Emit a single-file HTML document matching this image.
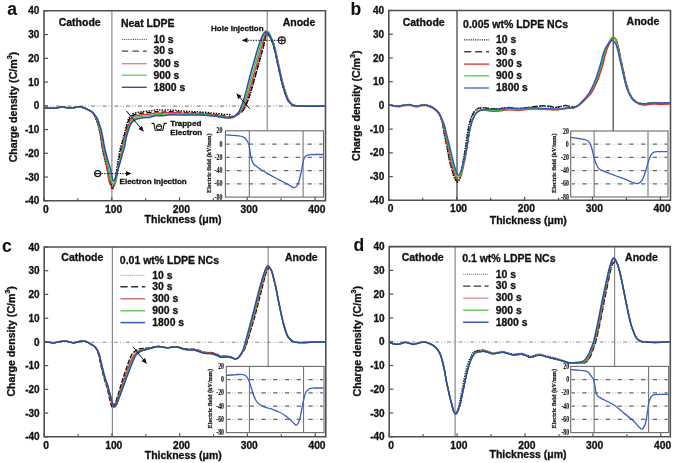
<!DOCTYPE html><html><head><meta charset="utf-8"><style>html,body{margin:0;padding:0;background:#fff;}svg{display:block;will-change:transform;}</style></head><body>
<svg width="675" height="463" viewBox="0 0 675 463">
<defs><marker id="ah" markerWidth="6" markerHeight="6" refX="5" refY="3" orient="auto" markerUnits="userSpaceOnUse"><path d="M0,0.5 L5.5,3 L0,5.5 Z" fill="#111"/></marker></defs>
<rect width="675" height="463" fill="#fff"/>
<text x="7.20" y="15.10" font-family="Liberation Sans, sans-serif" font-size="17.5" font-weight="bold" text-anchor="start" fill="#111" stroke="#111" stroke-width="0.1">a</text>
<text x="39.40" y="204.40" font-family="Liberation Sans, sans-serif" font-size="10" font-weight="bold" text-anchor="end" fill="#111" stroke="#111" stroke-width="0.3">-40</text>
<text x="39.40" y="180.65" font-family="Liberation Sans, sans-serif" font-size="10" font-weight="bold" text-anchor="end" fill="#111" stroke="#111" stroke-width="0.3">-30</text>
<text x="39.40" y="156.90" font-family="Liberation Sans, sans-serif" font-size="10" font-weight="bold" text-anchor="end" fill="#111" stroke="#111" stroke-width="0.3">-20</text>
<text x="39.40" y="133.15" font-family="Liberation Sans, sans-serif" font-size="10" font-weight="bold" text-anchor="end" fill="#111" stroke="#111" stroke-width="0.3">-10</text>
<text x="39.40" y="109.40" font-family="Liberation Sans, sans-serif" font-size="10" font-weight="bold" text-anchor="end" fill="#111" stroke="#111" stroke-width="0.3">0</text>
<text x="39.40" y="85.65" font-family="Liberation Sans, sans-serif" font-size="10" font-weight="bold" text-anchor="end" fill="#111" stroke="#111" stroke-width="0.3">10</text>
<text x="39.40" y="61.90" font-family="Liberation Sans, sans-serif" font-size="10" font-weight="bold" text-anchor="end" fill="#111" stroke="#111" stroke-width="0.3">20</text>
<text x="39.40" y="38.15" font-family="Liberation Sans, sans-serif" font-size="10" font-weight="bold" text-anchor="end" fill="#111" stroke="#111" stroke-width="0.3">30</text>
<text x="39.40" y="14.40" font-family="Liberation Sans, sans-serif" font-size="10" font-weight="bold" text-anchor="end" fill="#111" stroke="#111" stroke-width="0.3">40</text>
<text x="45.80" y="212.60" font-family="Liberation Sans, sans-serif" font-size="10.3" font-weight="bold" text-anchor="middle" fill="#111" stroke="#111" stroke-width="0.3">0</text>
<text x="113.55" y="212.60" font-family="Liberation Sans, sans-serif" font-size="10.3" font-weight="bold" text-anchor="middle" fill="#111" stroke="#111" stroke-width="0.3">100</text>
<text x="181.30" y="212.60" font-family="Liberation Sans, sans-serif" font-size="10.3" font-weight="bold" text-anchor="middle" fill="#111" stroke="#111" stroke-width="0.3">200</text>
<text x="249.05" y="212.60" font-family="Liberation Sans, sans-serif" font-size="10.3" font-weight="bold" text-anchor="middle" fill="#111" stroke="#111" stroke-width="0.3">300</text>
<text x="316.80" y="212.60" font-family="Liberation Sans, sans-serif" font-size="10.3" font-weight="bold" text-anchor="middle" fill="#111" stroke="#111" stroke-width="0.3">400</text>
<text x="183.10" y="223.40" font-family="Liberation Sans, sans-serif" font-size="10.5" font-weight="bold" text-anchor="middle" fill="#111" stroke="#111" stroke-width="0.3">Thickness (&#956;m)</text>
<text transform="translate(17.00,107.15) rotate(-90)" font-family="Liberation Sans, sans-serif" font-size="10.6" font-weight="bold" text-anchor="middle" fill="#111" stroke="#111" stroke-width="0.3">Charge density (C/m<tspan font-size="7" dy="-4.8">3</tspan><tspan dy="4.8">)</tspan></text>
<line x1="111.90" y1="10.80" x2="111.90" y2="200.80" stroke="#8a8a8a" stroke-width="1.2"/>
<line x1="267.20" y1="10.80" x2="267.20" y2="130.60" stroke="#8a8a8a" stroke-width="1.2"/>
<line x1="45.00" y1="106.10" x2="324.50" y2="106.10" stroke="#8a8a8a" stroke-width="1.1" stroke-dasharray="4 2 0.8 1.95 0.8 2.2" stroke-dashoffset="1.10"/>
<path d="M44.50,107.80 C45.42,107.88 48.15,108.23 50.00,108.30 C51.85,108.37 53.63,108.43 55.60,108.20 C57.57,107.97 60.07,107.00 61.80,106.90 C63.53,106.80 64.52,107.38 66.00,107.60 C67.48,107.82 69.20,108.23 70.70,108.20 C72.20,108.17 73.38,107.65 75.00,107.40 C76.62,107.15 78.60,106.48 80.40,106.70 C82.20,106.92 84.37,108.12 85.80,108.70 C87.23,109.28 88.02,109.70 89.00,110.20 C89.98,110.70 90.91,110.98 91.70,111.70 C92.49,112.42 93.03,113.30 93.75,114.50 C94.47,115.70 95.15,116.57 96.00,118.89 C96.86,121.22 98.07,125.26 98.87,128.46 C99.67,131.67 100.26,134.88 100.81,138.12 C101.37,141.36 101.76,145.23 102.20,147.90 C102.64,150.57 102.85,151.40 103.46,154.15 C104.07,156.91 105.32,162.21 105.88,164.43 C106.43,166.65 106.35,165.99 106.80,167.50 C107.25,169.01 107.97,170.75 108.60,173.50 C109.23,176.25 110.03,181.47 110.60,184.00 C111.17,186.53 111.58,187.98 112.00,188.70 C112.42,189.42 112.72,189.00 113.10,188.30 C113.48,187.60 113.90,186.13 114.30,184.50 C114.70,182.87 115.05,181.42 115.50,178.50 C115.95,175.58 116.53,170.25 117.00,167.00 C117.47,163.75 117.87,161.67 118.30,159.00 C118.73,156.33 118.92,154.00 119.60,151.00 C120.28,148.00 121.55,144.07 122.40,141.00 C123.25,137.93 123.85,135.83 124.70,132.60 C125.55,129.37 126.57,124.30 127.50,121.60 C128.43,118.90 129.22,117.78 130.30,116.40 C131.38,115.02 132.38,114.03 134.00,113.30 C135.62,112.57 137.33,112.42 140.00,112.00 C142.67,111.58 147.23,111.19 150.00,110.80 C152.77,110.41 154.85,109.76 156.60,109.64 C158.35,109.52 158.55,110.06 160.50,110.10 C162.45,110.14 165.88,109.86 168.30,109.90 C170.72,109.93 172.22,110.08 175.00,110.30 C177.78,110.52 181.67,110.97 185.00,111.20 C188.33,111.43 191.67,111.52 195.00,111.70 C198.33,111.88 202.17,112.08 205.00,112.30 C207.83,112.52 209.78,112.77 212.00,113.00 C214.22,113.23 216.30,113.46 218.30,113.69 C220.30,113.91 222.22,114.21 224.00,114.35 C225.78,114.49 227.50,114.20 229.00,114.54 C230.50,114.89 231.92,116.27 233.00,116.42 C234.08,116.58 234.43,116.02 235.50,115.50 C236.57,114.98 238.12,114.17 239.40,113.30 C240.68,112.43 242.01,111.85 243.20,110.30 C244.39,108.75 245.30,106.90 246.53,104.00 C247.76,101.10 249.17,97.20 250.55,92.90 C251.93,88.60 253.34,83.40 254.81,78.20 C256.28,73.00 257.92,66.90 259.35,61.70 C260.78,56.50 262.36,51.12 263.38,47.00 C264.40,42.88 264.96,39.15 265.48,37.00 C266.00,34.85 266.22,34.70 266.52,34.12 C266.82,33.53 266.95,33.37 267.28,33.48 C267.61,33.58 267.88,33.87 268.50,34.77 C269.12,35.66 270.08,36.80 271.00,38.84 C271.92,40.88 272.82,42.57 274.00,47.00 C275.18,51.43 276.72,59.28 278.10,65.40 C279.48,71.52 280.83,78.27 282.30,83.70 C283.77,89.13 285.62,94.82 286.90,98.00 C288.18,101.18 289.08,101.67 290.00,102.80 C290.92,103.93 291.40,104.30 292.40,104.80 C293.40,105.30 294.73,105.58 296.00,105.80 C297.27,106.02 297.67,106.03 300.00,106.10 C302.33,106.17 305.83,106.22 310.00,106.20 C314.17,106.18 322.50,106.03 325.00,106.00" fill="none" stroke="#000" stroke-width="1.4" stroke-dasharray="1.4 1.3" stroke-linejoin="round" />
<path d="M44.50,107.80 C45.42,107.88 48.15,108.23 50.00,108.30 C51.85,108.37 53.63,108.43 55.60,108.20 C57.57,107.97 60.07,107.00 61.80,106.90 C63.53,106.80 64.52,107.38 66.00,107.60 C67.48,107.82 69.20,108.23 70.70,108.20 C72.20,108.17 73.38,107.65 75.00,107.40 C76.62,107.15 78.60,106.48 80.40,106.70 C82.20,106.92 84.37,108.12 85.80,108.70 C87.23,109.28 88.02,109.70 89.00,110.20 C89.98,110.70 90.89,110.98 91.70,111.70 C92.51,112.42 93.12,113.31 93.88,114.50 C94.63,115.69 95.34,116.54 96.22,118.81 C97.09,121.08 98.31,125.01 99.12,128.13 C99.94,131.24 100.53,134.35 101.09,137.50 C101.66,140.65 102.06,144.43 102.50,147.02 C102.94,149.62 103.14,150.42 103.74,153.09 C104.34,155.77 105.57,160.78 106.12,163.10 C106.66,165.42 106.55,165.43 107.00,167.00 C107.45,168.57 108.17,169.83 108.80,172.50 C109.43,175.17 110.25,180.53 110.80,183.00 C111.35,185.47 111.70,186.72 112.10,187.30 C112.50,187.88 112.80,187.30 113.20,186.50 C113.60,185.70 114.00,184.33 114.50,182.50 C115.00,180.67 115.58,178.25 116.20,175.50 C116.82,172.75 117.45,170.08 118.20,166.00 C118.95,161.92 119.90,155.17 120.70,151.00 C121.50,146.83 122.23,144.07 123.00,141.00 C123.77,137.93 124.53,135.43 125.30,132.60 C126.07,129.77 126.88,126.23 127.60,124.00 C128.32,121.77 128.87,120.50 129.60,119.20 C130.33,117.90 131.02,117.03 132.00,116.20 C132.98,115.37 134.00,114.70 135.50,114.20 C137.00,113.70 138.58,113.47 141.00,113.20 C143.42,112.93 147.40,112.85 150.00,112.60 C152.60,112.35 154.85,111.77 156.60,111.73 C158.35,111.68 158.55,112.30 160.50,112.32 C162.45,112.33 165.88,111.89 168.30,111.81 C170.72,111.74 172.22,111.74 175.00,111.86 C177.78,111.98 181.67,112.38 185.00,112.54 C188.33,112.70 191.67,112.67 195.00,112.81 C198.33,112.95 202.17,113.16 205.00,113.39 C207.83,113.62 209.78,113.94 212.00,114.21 C214.22,114.49 216.30,114.72 218.30,115.03 C220.30,115.33 222.22,115.74 224.00,116.03 C225.78,116.32 227.50,116.58 229.00,116.75 C230.50,116.92 231.92,117.26 233.00,117.05 C234.08,116.84 234.45,116.12 235.50,115.50 C236.55,114.88 238.06,114.17 239.31,113.30 C240.57,112.43 241.85,111.85 243.02,110.30 C244.19,108.75 245.09,106.90 246.31,104.00 C247.52,101.10 248.93,97.20 250.30,92.90 C251.67,88.60 253.05,83.40 254.52,78.20 C255.98,73.00 257.65,66.90 259.10,61.70 C260.55,56.50 262.14,51.12 263.19,47.00 C264.23,42.88 264.83,39.15 265.38,37.00 C265.92,34.85 266.16,34.70 266.48,34.12 C266.80,33.53 266.94,33.37 267.28,33.48 C267.62,33.58 267.88,33.87 268.50,34.77 C269.12,35.66 270.08,36.80 271.00,38.84 C271.92,40.88 272.82,42.57 274.00,47.00 C275.18,51.43 276.72,59.28 278.10,65.40 C279.48,71.52 280.83,78.27 282.30,83.70 C283.77,89.13 285.62,94.82 286.90,98.00 C288.18,101.18 289.08,101.67 290.00,102.80 C290.92,103.93 291.40,104.30 292.40,104.80 C293.40,105.30 294.73,105.58 296.00,105.80 C297.27,106.02 297.67,106.03 300.00,106.10 C302.33,106.17 305.83,106.22 310.00,106.20 C314.17,106.18 322.50,106.03 325.00,106.00" fill="none" stroke="#111" stroke-width="1.5" stroke-dasharray="5 2.5" stroke-linejoin="round" />
<path d="M44.50,107.80 C45.42,107.88 48.15,108.23 50.00,108.30 C51.85,108.37 53.63,108.43 55.60,108.20 C57.57,107.97 60.07,107.00 61.80,106.90 C63.53,106.80 64.52,107.38 66.00,107.60 C67.48,107.82 69.20,108.23 70.70,108.20 C72.20,108.17 73.38,107.65 75.00,107.40 C76.62,107.15 78.60,106.48 80.40,106.70 C82.20,106.92 84.37,108.12 85.80,108.70 C87.23,109.28 88.02,109.70 89.00,110.20 C89.98,110.70 90.89,110.98 91.70,111.70 C92.51,112.42 93.12,113.31 93.88,114.50 C94.63,115.69 95.36,116.54 96.25,118.81 C97.14,121.08 98.40,125.02 99.23,128.13 C100.07,131.24 100.68,134.35 101.26,137.48 C101.83,140.61 102.26,144.36 102.70,146.93 C103.14,149.50 103.33,150.27 103.92,152.92 C104.51,155.57 105.81,160.57 106.26,162.83 C106.71,165.09 106.38,164.97 106.60,166.50 C106.82,168.03 107.25,169.92 107.60,172.00 C107.95,174.08 108.30,177.00 108.70,179.00 C109.10,181.00 109.48,182.73 110.00,184.00 C110.52,185.27 111.20,186.20 111.80,186.60 C112.40,187.00 113.03,186.92 113.60,186.40 C114.17,185.88 114.73,184.73 115.20,183.50 C115.67,182.27 116.02,180.92 116.40,179.00 C116.78,177.08 117.12,174.17 117.50,172.00 C117.88,169.83 118.23,168.33 118.70,166.00 C119.17,163.67 119.82,160.50 120.30,158.00 C120.78,155.50 121.02,153.83 121.60,151.00 C122.18,148.17 123.03,144.07 123.80,141.00 C124.57,137.93 125.42,135.27 126.20,132.60 C126.98,129.93 127.78,127.02 128.50,125.00 C129.22,122.98 129.75,121.75 130.50,120.50 C131.25,119.25 132.00,118.30 133.00,117.50 C134.00,116.70 135.00,116.17 136.50,115.70 C138.00,115.23 139.75,114.97 142.00,114.70 C144.25,114.43 147.57,114.41 150.00,114.10 C152.43,113.79 154.85,112.98 156.60,112.83 C158.35,112.68 158.55,113.25 160.50,113.21 C162.45,113.18 165.88,112.73 168.30,112.63 C170.72,112.53 172.22,112.52 175.00,112.61 C177.78,112.71 181.67,113.06 185.00,113.19 C188.33,113.31 191.67,113.25 195.00,113.36 C198.33,113.48 202.17,113.66 205.00,113.89 C207.83,114.11 209.78,114.44 212.00,114.71 C214.22,114.99 216.30,115.22 218.30,115.53 C220.30,115.83 222.22,116.26 224.00,116.53 C225.78,116.80 227.50,117.07 229.00,117.17 C230.50,117.27 231.92,117.41 233.00,117.13 C234.08,116.86 234.54,116.14 235.50,115.50 C236.46,114.86 237.70,114.17 238.76,113.30 C239.82,112.43 240.82,111.85 241.85,110.30 C242.88,108.75 243.77,106.90 244.92,104.00 C246.07,101.10 247.45,97.20 248.77,92.90 C250.09,88.60 251.38,83.40 252.84,78.20 C254.30,73.00 256.02,66.90 257.50,61.70 C258.98,56.50 260.58,51.12 261.73,47.00 C262.87,42.88 263.72,39.19 264.35,37.00 C264.98,34.81 265.09,34.49 265.50,33.84 C265.90,33.19 266.24,33.01 266.80,33.11 C267.36,33.21 268.05,33.51 268.86,34.45 C269.68,35.39 270.69,36.66 271.68,38.75 C272.66,40.84 273.60,42.56 274.80,47.00 C276.00,51.44 277.52,59.28 278.90,65.40 C280.28,71.52 281.63,78.27 283.10,83.70 C284.57,89.13 286.45,94.82 287.70,98.00 C288.95,101.18 289.76,101.67 290.60,102.80 C291.44,103.93 291.86,104.30 292.76,104.80 C293.66,105.30 294.79,105.58 296.00,105.80 C297.21,106.02 297.67,106.03 300.00,106.10 C302.33,106.17 305.83,106.22 310.00,106.20 C314.17,106.18 322.50,106.03 325.00,106.00" fill="none" stroke="#d9343c" stroke-width="1.4" stroke-linejoin="round" />
<path d="M44.50,107.80 C45.42,107.88 48.15,108.23 50.00,108.30 C51.85,108.37 53.63,108.43 55.60,108.20 C57.57,107.97 60.07,107.00 61.80,106.90 C63.53,106.80 64.52,107.38 66.00,107.60 C67.48,107.82 69.20,108.23 70.70,108.20 C72.20,108.17 73.38,107.65 75.00,107.40 C76.62,107.15 78.60,106.48 80.40,106.70 C82.20,106.92 84.37,108.12 85.80,108.70 C87.23,109.28 88.02,109.70 89.00,110.20 C89.98,110.70 90.84,110.98 91.70,111.70 C92.56,112.42 93.34,113.33 94.19,114.50 C95.03,115.67 95.83,116.50 96.77,118.71 C97.70,120.91 98.95,124.72 99.79,127.71 C100.64,130.71 101.25,133.68 101.84,136.69 C102.42,139.70 102.85,143.30 103.30,145.76 C103.75,148.23 103.92,148.93 104.51,151.46 C105.10,153.99 106.32,158.79 106.84,160.97 C107.35,163.14 107.27,162.99 107.60,164.50 C107.93,166.01 108.40,167.92 108.80,170.00 C109.20,172.08 109.60,175.03 110.00,177.00 C110.40,178.97 110.73,180.63 111.20,181.80 C111.67,182.97 112.27,183.72 112.80,184.00 C113.33,184.28 113.92,184.08 114.40,183.50 C114.88,182.92 115.30,181.83 115.70,180.50 C116.10,179.17 116.47,177.08 116.80,175.50 C117.13,173.92 117.22,173.33 117.70,171.00 C118.18,168.67 118.95,164.83 119.70,161.50 C120.45,158.17 121.40,154.42 122.20,151.00 C123.00,147.58 123.72,144.07 124.50,141.00 C125.28,137.93 126.07,135.18 126.90,132.60 C127.73,130.02 128.73,127.35 129.50,125.50 C130.27,123.65 130.75,122.58 131.50,121.50 C132.25,120.42 133.00,119.72 134.00,119.00 C135.00,118.28 136.00,117.68 137.50,117.20 C139.00,116.72 140.92,116.37 143.00,116.10 C145.08,115.83 147.73,115.93 150.00,115.60 C152.27,115.27 154.85,114.33 156.60,114.13 C158.35,113.93 158.55,114.48 160.50,114.41 C162.45,114.34 165.88,113.85 168.30,113.72 C170.72,113.59 172.22,113.57 175.00,113.62 C177.78,113.68 181.67,113.99 185.00,114.07 C188.33,114.16 191.67,114.05 195.00,114.12 C198.33,114.20 202.17,114.35 205.00,114.55 C207.83,114.75 209.78,115.07 212.00,115.33 C214.22,115.59 216.30,115.81 218.30,116.10 C220.30,116.38 222.22,116.81 224.00,117.06 C225.78,117.31 227.50,117.56 229.00,117.58 C230.50,117.61 231.92,117.56 233.00,117.22 C234.08,116.87 234.62,116.15 235.50,115.50 C236.38,114.85 237.37,114.17 238.25,113.30 C239.13,112.43 239.88,111.85 240.77,110.30 C241.66,108.75 242.52,106.90 243.61,104.00 C244.70,101.10 246.02,97.20 247.28,92.90 C248.55,88.60 249.75,83.40 251.17,78.20 C252.59,73.00 254.32,66.91 255.80,61.70 C257.28,56.49 258.85,51.18 260.06,46.96 C261.26,42.73 262.24,38.85 263.03,36.35 C263.82,33.84 264.28,32.82 264.81,31.91 C265.34,31.00 265.56,30.81 266.22,30.89 C266.89,30.98 267.93,31.25 268.81,32.42 C269.69,33.58 270.55,35.46 271.50,37.89 C272.45,40.33 273.32,42.42 274.50,47.00 C275.68,51.58 277.22,59.28 278.60,65.40 C279.98,71.52 281.33,78.27 282.80,83.70 C284.27,89.13 286.14,94.82 287.40,98.00 C288.66,101.18 289.50,101.67 290.38,102.80 C291.25,103.93 291.69,104.30 292.62,104.80 C293.56,105.30 294.77,105.58 296.00,105.80 C297.23,106.02 297.67,106.03 300.00,106.10 C302.33,106.17 305.83,106.22 310.00,106.20 C314.17,106.18 322.50,106.03 325.00,106.00" fill="none" stroke="#3ec43e" stroke-width="1.4" stroke-linejoin="round" />
<path d="M44.50,107.80 C45.42,107.88 48.15,108.23 50.00,108.30 C51.85,108.37 53.63,108.43 55.60,108.20 C57.57,107.97 60.07,107.00 61.80,106.90 C63.53,106.80 64.52,107.38 66.00,107.60 C67.48,107.82 69.20,108.23 70.70,108.20 C72.20,108.17 73.38,107.65 75.00,107.40 C76.62,107.15 78.60,106.48 80.40,106.70 C82.20,106.92 84.37,108.12 85.80,108.70 C87.23,109.28 88.02,109.70 89.00,110.20 C89.98,110.70 90.78,110.98 91.70,111.70 C92.62,112.42 93.57,113.35 94.50,114.50 C95.43,115.65 96.32,116.47 97.30,118.60 C98.28,120.73 99.53,124.42 100.40,127.30 C101.27,130.18 101.90,133.02 102.50,135.90 C103.10,138.78 103.55,142.25 104.00,144.60 C104.45,146.95 104.62,147.58 105.20,150.00 C105.78,152.42 106.67,156.08 107.50,159.10 C108.33,162.12 109.43,165.08 110.20,168.10 C110.97,171.12 111.57,175.00 112.10,177.20 C112.63,179.40 112.80,181.30 113.40,181.30 C114.00,181.30 114.87,179.40 115.70,177.20 C116.53,175.00 117.50,171.12 118.40,168.10 C119.30,165.08 120.30,161.95 121.10,159.10 C121.90,156.25 122.65,152.93 123.20,151.00 C123.75,149.07 123.88,149.77 124.40,147.50 C124.92,145.23 125.70,140.07 126.30,137.40 C126.90,134.73 127.38,133.48 128.00,131.50 C128.62,129.52 129.25,127.12 130.00,125.50 C130.75,123.88 131.67,122.72 132.50,121.80 C133.33,120.88 134.13,120.52 135.00,120.00 C135.87,119.48 136.35,119.08 137.70,118.70 C139.05,118.32 141.05,117.95 143.10,117.70 C145.15,117.45 147.75,117.55 150.00,117.20 C152.25,116.85 154.85,115.83 156.60,115.60 C158.35,115.37 158.55,115.90 160.50,115.80 C162.45,115.70 165.88,115.17 168.30,115.00 C170.72,114.83 172.22,114.78 175.00,114.80 C177.78,114.82 181.67,115.07 185.00,115.10 C188.33,115.13 191.67,114.97 195.00,115.00 C198.33,115.03 202.17,115.13 205.00,115.30 C207.83,115.47 209.78,115.77 212.00,116.00 C214.22,116.23 216.30,116.43 218.30,116.70 C220.30,116.97 222.22,117.38 224.00,117.60 C225.78,117.82 227.50,118.05 229.00,118.00 C230.50,117.95 231.92,117.72 233.00,117.30 C234.08,116.88 234.72,116.17 235.50,115.50 C236.28,114.83 237.02,114.17 237.70,113.30 C238.38,112.43 238.85,111.85 239.60,110.30 C240.35,108.75 241.18,106.90 242.20,104.00 C243.22,101.10 244.50,97.20 245.70,92.90 C246.90,88.60 248.02,83.40 249.40,78.20 C250.78,73.00 252.52,66.90 254.00,61.70 C255.48,56.50 257.00,51.12 258.30,47.00 C259.60,42.88 260.80,39.33 261.80,37.00 C262.80,34.67 263.57,33.83 264.30,33.00 C265.03,32.17 265.50,31.92 266.20,32.00 C266.90,32.08 267.70,32.42 268.50,33.50 C269.30,34.58 270.08,36.25 271.00,38.50 C271.92,40.75 272.82,42.52 274.00,47.00 C275.18,51.48 276.72,59.28 278.10,65.40 C279.48,71.52 280.83,78.27 282.30,83.70 C283.77,89.13 285.62,94.82 286.90,98.00 C288.18,101.18 289.08,101.67 290.00,102.80 C290.92,103.93 291.40,104.30 292.40,104.80 C293.40,105.30 294.73,105.58 296.00,105.80 C297.27,106.02 297.67,106.03 300.00,106.10 C302.33,106.17 305.83,106.22 310.00,106.20 C314.17,106.18 322.50,106.03 325.00,106.00" fill="none" stroke="#2a4aa8" stroke-width="1.5" stroke-linejoin="round" />
<rect x="225.40" y="130.80" width="98.10" height="66.30" fill="#fff" stroke="#6a6a6a" stroke-width="1.1"/>
<line x1="226.40" y1="144.06" x2="322.50" y2="144.06" stroke="#666" stroke-width="1.3" stroke-dasharray="4.4 7.35" stroke-dashoffset="1.2"/>
<line x1="226.40" y1="144.06" x2="322.50" y2="144.06" stroke="#aaa" stroke-width="1.1" stroke-dasharray="0 6.4 0.7 1.9 0.7 2.05" stroke-dashoffset="1.2"/>
<line x1="226.40" y1="157.32" x2="322.50" y2="157.32" stroke="#666" stroke-width="1.3" stroke-dasharray="4.4 7.35" stroke-dashoffset="1.2"/>
<line x1="226.40" y1="157.32" x2="322.50" y2="157.32" stroke="#aaa" stroke-width="1.1" stroke-dasharray="0 6.4 0.7 1.9 0.7 2.05" stroke-dashoffset="1.2"/>
<line x1="226.40" y1="170.58" x2="322.50" y2="170.58" stroke="#666" stroke-width="1.3" stroke-dasharray="4.4 7.35" stroke-dashoffset="1.2"/>
<line x1="226.40" y1="170.58" x2="322.50" y2="170.58" stroke="#aaa" stroke-width="1.1" stroke-dasharray="0 6.4 0.7 1.9 0.7 2.05" stroke-dashoffset="1.2"/>
<line x1="226.40" y1="183.84" x2="322.50" y2="183.84" stroke="#666" stroke-width="1.3" stroke-dasharray="4.4 7.35" stroke-dashoffset="1.2"/>
<line x1="226.40" y1="183.84" x2="322.50" y2="183.84" stroke="#aaa" stroke-width="1.1" stroke-dasharray="0 6.4 0.7 1.9 0.7 2.05" stroke-dashoffset="1.2"/>
<text transform="translate(222.40,133.30) scale(0.8,1)" font-family="Liberation Serif, serif" font-size="7.3" font-weight="bold" text-anchor="end" fill="#1a1a1a" stroke="#1a1a1a" stroke-width="0.15">20</text>
<text transform="translate(222.40,146.56) scale(0.8,1)" font-family="Liberation Serif, serif" font-size="7.3" font-weight="bold" text-anchor="end" fill="#1a1a1a" stroke="#1a1a1a" stroke-width="0.15">0</text>
<text transform="translate(222.40,159.82) scale(0.8,1)" font-family="Liberation Serif, serif" font-size="7.3" font-weight="bold" text-anchor="end" fill="#1a1a1a" stroke="#1a1a1a" stroke-width="0.15">-20</text>
<text transform="translate(222.40,173.08) scale(0.8,1)" font-family="Liberation Serif, serif" font-size="7.3" font-weight="bold" text-anchor="end" fill="#1a1a1a" stroke="#1a1a1a" stroke-width="0.15">-40</text>
<text transform="translate(222.40,186.34) scale(0.8,1)" font-family="Liberation Serif, serif" font-size="7.3" font-weight="bold" text-anchor="end" fill="#1a1a1a" stroke="#1a1a1a" stroke-width="0.15">-60</text>
<text transform="translate(222.40,199.60) scale(0.8,1)" font-family="Liberation Serif, serif" font-size="7.3" font-weight="bold" text-anchor="end" fill="#1a1a1a" stroke="#1a1a1a" stroke-width="0.15">-80</text>
<line x1="249.30" y1="130.80" x2="249.30" y2="197.10" stroke="#6a6a6a" stroke-width="1.0"/>
<line x1="303.10" y1="130.80" x2="303.10" y2="197.10" stroke="#6a6a6a" stroke-width="1.0"/>
<text transform="translate(210.60,163.15) rotate(-90)" font-family="Liberation Serif, serif" font-size="6.9" font-weight="bold" text-anchor="middle" fill="#111" stroke="#111" stroke-width="0.2" textLength="59.5" lengthAdjust="spacingAndGlyphs">Electric field (kV/mm)</text>
<path d="M225.80,134.90 C226.83,134.97 229.97,135.15 232.00,135.30 C234.03,135.45 236.25,135.58 238.00,135.80 C239.75,136.02 241.33,136.20 242.50,136.60 C243.67,137.00 244.22,137.47 245.00,138.20 C245.78,138.93 246.57,139.97 247.20,141.00 C247.83,142.03 248.37,142.98 248.80,144.40 C249.23,145.82 249.48,147.65 249.80,149.50 C250.12,151.35 250.37,153.75 250.70,155.50 C251.03,157.25 251.38,158.70 251.80,160.00 C252.22,161.30 252.62,162.37 253.20,163.30 C253.78,164.23 254.50,164.90 255.30,165.60 C256.10,166.30 256.88,166.73 258.00,167.50 C259.12,168.27 260.67,169.35 262.00,170.20 C263.33,171.05 264.67,171.82 266.00,172.60 C267.33,173.38 268.00,173.80 270.00,174.90 C272.00,176.00 275.47,177.85 278.00,179.20 C280.53,180.55 283.20,181.92 285.20,183.00 C287.20,184.08 288.78,185.02 290.00,185.70 C291.22,186.38 291.77,186.78 292.50,187.10 C293.23,187.42 293.78,187.68 294.40,187.60 C295.02,187.52 295.67,187.12 296.20,186.60 C296.73,186.08 297.13,185.43 297.60,184.50 C298.07,183.57 298.55,182.42 299.00,181.00 C299.45,179.58 299.88,177.77 300.30,176.00 C300.72,174.23 301.08,172.48 301.50,170.40 C301.92,168.32 302.35,165.57 302.80,163.50 C303.25,161.43 303.73,159.20 304.20,158.00 C304.67,156.80 305.03,156.77 305.60,156.30 C306.17,155.83 306.77,155.47 307.60,155.20 C308.43,154.93 309.20,154.82 310.60,154.70 C312.00,154.58 313.93,154.53 316.00,154.50 C318.07,154.47 321.83,154.50 323.00,154.50" fill="none" stroke="#3a5fc0" stroke-width="1.3" stroke-linejoin="round" />
<path d="M44.00,10.80 H325.50 V200.80 H44.00 Z" fill="none" stroke="#505050" stroke-width="1.6"/>
<line x1="44.00" y1="200.80" x2="48.00" y2="200.80" stroke="#505050" stroke-width="1.2"/>
<line x1="44.00" y1="177.05" x2="48.00" y2="177.05" stroke="#505050" stroke-width="1.2"/>
<line x1="44.00" y1="153.30" x2="48.00" y2="153.30" stroke="#505050" stroke-width="1.2"/>
<line x1="44.00" y1="129.55" x2="48.00" y2="129.55" stroke="#505050" stroke-width="1.2"/>
<line x1="44.00" y1="105.80" x2="48.00" y2="105.80" stroke="#505050" stroke-width="1.2"/>
<line x1="44.00" y1="82.05" x2="48.00" y2="82.05" stroke="#505050" stroke-width="1.2"/>
<line x1="44.00" y1="58.30" x2="48.00" y2="58.30" stroke="#505050" stroke-width="1.2"/>
<line x1="44.00" y1="34.55" x2="48.00" y2="34.55" stroke="#505050" stroke-width="1.2"/>
<line x1="44.00" y1="10.80" x2="48.00" y2="10.80" stroke="#505050" stroke-width="1.2"/>
<line x1="44.00" y1="200.80" x2="44.00" y2="197.30" stroke="#505050" stroke-width="1.2"/>
<line x1="77.88" y1="200.80" x2="77.88" y2="198.30" stroke="#505050" stroke-width="1.2"/>
<line x1="111.75" y1="200.80" x2="111.75" y2="197.30" stroke="#505050" stroke-width="1.2"/>
<line x1="145.62" y1="200.80" x2="145.62" y2="198.30" stroke="#505050" stroke-width="1.2"/>
<line x1="179.50" y1="200.80" x2="179.50" y2="197.30" stroke="#505050" stroke-width="1.2"/>
<line x1="213.38" y1="200.80" x2="213.38" y2="198.30" stroke="#505050" stroke-width="1.2"/>
<line x1="247.25" y1="200.80" x2="247.25" y2="197.30" stroke="#505050" stroke-width="1.2"/>
<line x1="281.12" y1="200.80" x2="281.12" y2="198.30" stroke="#505050" stroke-width="1.2"/>
<line x1="315.00" y1="200.80" x2="315.00" y2="197.30" stroke="#505050" stroke-width="1.2"/>
<text x="58.70" y="25.70" font-family="Liberation Sans, sans-serif" font-size="10.5" font-weight="bold" text-anchor="start" fill="#111" stroke="#111" stroke-width="0.3">Cathode</text>
<text x="120.90" y="26.90" font-family="Liberation Sans, sans-serif" font-size="10.5" font-weight="bold" text-anchor="start" fill="#111" stroke="#111" stroke-width="0.3">Neat LDPE</text>
<text x="282.70" y="26.10" font-family="Liberation Sans, sans-serif" font-size="10.5" font-weight="bold" text-anchor="start" fill="#111" stroke="#111" stroke-width="0.3">Anode</text>
<text x="211.10" y="31.30" font-family="Liberation Sans, sans-serif" font-size="8" font-weight="bold" text-anchor="start" fill="#111" stroke="#111" stroke-width="0.3">Hole injection</text>
<text x="119.60" y="184.30" font-family="Liberation Sans, sans-serif" font-size="8" font-weight="bold" text-anchor="start" fill="#111" stroke="#111" stroke-width="0.3">Electron injection</text>
<text x="170.20" y="125.50" font-family="Liberation Sans, sans-serif" font-size="8" font-weight="bold" text-anchor="start" fill="#111" stroke="#111" stroke-width="0.3">Trapped</text>
<text x="170.20" y="135.20" font-family="Liberation Sans, sans-serif" font-size="8" font-weight="bold" text-anchor="start" fill="#111" stroke="#111" stroke-width="0.3">Electron</text>
<line x1="121.80" y1="39.50" x2="146.80" y2="39.50" stroke="#555" stroke-width="1.2" stroke-dasharray="1.1 1.1"/>
<text x="153.40" y="42.80" font-family="Liberation Sans, sans-serif" font-size="10.4" font-weight="bold" text-anchor="start" fill="#111" stroke="#111" stroke-width="0.3">10 s</text>
<line x1="121.80" y1="51.10" x2="146.80" y2="51.10" stroke="#444" stroke-width="1.4" stroke-dasharray="6.4 4.2"/>
<text x="153.40" y="54.40" font-family="Liberation Sans, sans-serif" font-size="10.4" font-weight="bold" text-anchor="start" fill="#111" stroke="#111" stroke-width="0.3">30 s</text>
<line x1="121.80" y1="63.70" x2="146.80" y2="63.70" stroke="#dc8a92" stroke-width="1.4"/>
<text x="153.40" y="67.00" font-family="Liberation Sans, sans-serif" font-size="10.4" font-weight="bold" text-anchor="start" fill="#111" stroke="#111" stroke-width="0.3">300 s</text>
<line x1="121.80" y1="75.20" x2="146.80" y2="75.20" stroke="#6ad06a" stroke-width="1.4"/>
<text x="153.40" y="78.50" font-family="Liberation Sans, sans-serif" font-size="10.4" font-weight="bold" text-anchor="start" fill="#111" stroke="#111" stroke-width="0.3">900 s</text>
<line x1="121.80" y1="87.30" x2="146.80" y2="87.30" stroke="#3a4fa0" stroke-width="1.4"/>
<text x="153.40" y="90.60" font-family="Liberation Sans, sans-serif" font-size="10.4" font-weight="bold" text-anchor="start" fill="#111" stroke="#111" stroke-width="0.3">1800 s</text>
<line x1="277.8" y1="40.3" x2="242.5" y2="40.3" stroke="#111" stroke-width="1" stroke-dasharray="1.4 1.2" marker-end="url(#ah)"/>
<circle cx="281.80" cy="40.30" r="3.50" fill="none" stroke="#1a1a1a" stroke-width="1.2"/><line x1="278.30" y1="40.30" x2="285.30" y2="40.30" stroke="#1a1a1a" stroke-width="1.2"/><line x1="281.80" y1="36.80" x2="281.80" y2="43.80" stroke="#1a1a1a" stroke-width="1"/>
<line x1="101.5" y1="173.6" x2="131" y2="173.6" stroke="#111" stroke-width="1" stroke-dasharray="1.4 1.2" marker-end="url(#ah)"/>
<circle cx="97.70" cy="173.60" r="3.00" fill="none" stroke="#1a1a1a" stroke-width="1.2"/><line x1="94.70" y1="173.60" x2="100.70" y2="173.60" stroke="#1a1a1a" stroke-width="1.2"/>
<line x1="126.3" y1="110.9" x2="143.3" y2="131.1" stroke="#111" stroke-width="1" marker-end="url(#ah)"/>
<line x1="249.8" y1="108.8" x2="236.8" y2="93.8" stroke="#111" stroke-width="1" marker-end="url(#ah)"/>
<path d="M151.5,123.4 H153.8 L155.3,130.3 H162.8 L164.3,123.4 H166.7" fill="none" stroke="#111" stroke-width="1.1"/>
<circle cx="159.1" cy="127.1" r="2.7" fill="none" stroke="#111" stroke-width="1"/><line x1="156.6" y1="126.2" x2="161.6" y2="126.2" stroke="#111" stroke-width="1"/>
<text x="350.50" y="15.10" font-family="Liberation Sans, sans-serif" font-size="17.5" font-weight="bold" text-anchor="start" fill="#111" stroke="#111" stroke-width="0.1">b</text>
<text x="384.20" y="203.90" font-family="Liberation Sans, sans-serif" font-size="10" font-weight="bold" text-anchor="end" fill="#111" stroke="#111" stroke-width="0.3">-40</text>
<text x="384.20" y="180.17" font-family="Liberation Sans, sans-serif" font-size="10" font-weight="bold" text-anchor="end" fill="#111" stroke="#111" stroke-width="0.3">-30</text>
<text x="384.20" y="156.45" font-family="Liberation Sans, sans-serif" font-size="10" font-weight="bold" text-anchor="end" fill="#111" stroke="#111" stroke-width="0.3">-20</text>
<text x="384.20" y="132.72" font-family="Liberation Sans, sans-serif" font-size="10" font-weight="bold" text-anchor="end" fill="#111" stroke="#111" stroke-width="0.3">-10</text>
<text x="384.20" y="109.00" font-family="Liberation Sans, sans-serif" font-size="10" font-weight="bold" text-anchor="end" fill="#111" stroke="#111" stroke-width="0.3">0</text>
<text x="384.20" y="85.28" font-family="Liberation Sans, sans-serif" font-size="10" font-weight="bold" text-anchor="end" fill="#111" stroke="#111" stroke-width="0.3">10</text>
<text x="384.20" y="61.55" font-family="Liberation Sans, sans-serif" font-size="10" font-weight="bold" text-anchor="end" fill="#111" stroke="#111" stroke-width="0.3">20</text>
<text x="384.20" y="37.83" font-family="Liberation Sans, sans-serif" font-size="10" font-weight="bold" text-anchor="end" fill="#111" stroke="#111" stroke-width="0.3">30</text>
<text x="384.20" y="14.10" font-family="Liberation Sans, sans-serif" font-size="10" font-weight="bold" text-anchor="end" fill="#111" stroke="#111" stroke-width="0.3">40</text>
<text x="390.60" y="212.10" font-family="Liberation Sans, sans-serif" font-size="10.3" font-weight="bold" text-anchor="middle" fill="#111" stroke="#111" stroke-width="0.3">0</text>
<text x="458.50" y="212.10" font-family="Liberation Sans, sans-serif" font-size="10.3" font-weight="bold" text-anchor="middle" fill="#111" stroke="#111" stroke-width="0.3">100</text>
<text x="526.40" y="212.10" font-family="Liberation Sans, sans-serif" font-size="10.3" font-weight="bold" text-anchor="middle" fill="#111" stroke="#111" stroke-width="0.3">200</text>
<text x="594.30" y="212.10" font-family="Liberation Sans, sans-serif" font-size="10.3" font-weight="bold" text-anchor="middle" fill="#111" stroke="#111" stroke-width="0.3">300</text>
<text x="662.20" y="212.10" font-family="Liberation Sans, sans-serif" font-size="10.3" font-weight="bold" text-anchor="middle" fill="#111" stroke="#111" stroke-width="0.3">400</text>
<text x="528.30" y="223.90" font-family="Liberation Sans, sans-serif" font-size="10.5" font-weight="bold" text-anchor="middle" fill="#111" stroke="#111" stroke-width="0.3">Thickness (&#956;m)</text>
<text transform="translate(360.00,105.80) rotate(-90)" font-family="Liberation Sans, sans-serif" font-size="10.6" font-weight="bold" text-anchor="middle" fill="#111" stroke="#111" stroke-width="0.3">Charge density (C/m<tspan font-size="7" dy="-4.8">3</tspan><tspan dy="4.8">)</tspan></text>
<line x1="457.00" y1="10.50" x2="457.00" y2="200.30" stroke="#333" stroke-width="1.15"/>
<line x1="613.20" y1="10.50" x2="613.20" y2="131.00" stroke="#333" stroke-width="1.15"/>
<path d="M389.30,104.80 C389.92,104.93 391.50,105.35 393.00,105.60 C394.50,105.85 396.63,106.35 398.30,106.30 C399.97,106.25 401.30,105.58 403.00,105.30 C404.70,105.02 406.92,104.58 408.50,104.60 C410.08,104.62 411.13,105.12 412.50,105.40 C413.87,105.68 415.28,106.32 416.70,106.30 C418.12,106.28 419.53,105.53 421.00,105.30 C422.47,105.07 424.17,104.82 425.50,104.90 C426.83,104.98 427.83,105.40 429.00,105.80 C430.17,106.20 431.33,106.60 432.50,107.30 C433.67,108.00 434.92,109.00 436.00,110.00 C437.08,111.00 438.20,112.03 439.00,113.30 C439.80,114.57 440.20,115.64 440.82,117.60 C441.44,119.56 442.07,121.83 442.72,125.06 C443.38,128.30 443.99,133.09 444.73,136.99 C445.47,140.89 446.38,144.54 447.16,148.46 C447.94,152.39 448.62,156.95 449.40,160.54 C450.18,164.13 451.07,167.23 451.85,170.00 C452.63,172.76 453.39,175.31 454.06,177.12 C454.72,178.93 455.32,180.02 455.87,180.86 C456.41,181.70 456.83,182.18 457.30,182.18 C457.77,182.18 458.17,181.81 458.70,180.86 C459.22,179.91 459.94,178.35 460.45,176.46 C460.96,174.57 461.31,172.10 461.77,169.52 C462.22,166.94 462.67,164.02 463.17,160.98 C463.67,157.94 464.27,154.49 464.78,151.26 C465.30,148.04 465.78,144.85 466.26,141.62 C466.74,138.39 467.15,134.82 467.64,131.90 C468.13,128.98 468.65,126.46 469.22,124.10 C469.79,121.74 470.40,119.53 471.06,117.75 C471.72,115.97 472.43,114.61 473.15,113.39 C473.87,112.17 474.58,111.23 475.35,110.42 C476.12,109.62 476.86,109.00 477.80,108.59 C478.74,108.17 479.80,108.04 481.00,107.94 C482.20,107.84 483.50,107.86 485.00,107.97 C486.50,108.09 487.62,108.48 490.00,108.60 C492.38,108.72 496.18,108.89 499.30,108.71 C502.42,108.53 505.58,107.55 508.70,107.52 C511.82,107.49 514.67,108.56 518.00,108.53 C521.33,108.50 525.53,107.67 528.70,107.34 C531.87,107.01 534.12,106.77 537.00,106.56 C539.88,106.36 543.00,105.94 546.00,106.10 C549.00,106.26 552.50,107.47 555.00,107.55 C557.50,107.63 559.17,106.89 561.00,106.60 C562.83,106.31 563.95,105.70 566.00,105.80 C568.05,105.90 571.38,107.19 573.30,107.19 C575.22,107.19 576.17,106.53 577.50,105.80 C578.83,105.07 579.89,104.05 581.26,102.80 C582.64,101.55 584.24,99.88 585.75,98.30 C587.26,96.72 589.00,95.18 590.35,93.30 C591.70,91.42 592.72,89.30 593.87,87.00 C595.02,84.70 596.22,82.17 597.27,79.50 C598.32,76.83 599.24,73.83 600.15,71.00 C601.07,68.17 602.00,65.25 602.76,62.50 C603.51,59.75 603.97,56.94 604.67,54.50 C605.37,52.06 606.26,49.62 606.97,47.85 C607.68,46.07 608.32,45.11 608.95,43.86 C609.58,42.62 610.08,41.41 610.75,40.36 C611.42,39.32 612.30,37.90 613.00,37.60 C613.70,37.30 614.30,37.69 614.98,38.53 C615.65,39.38 616.39,40.75 617.05,42.66 C617.71,44.57 618.29,47.17 618.93,50.00 C619.57,52.83 620.17,56.25 620.91,59.67 C621.65,63.08 622.57,66.88 623.38,70.50 C624.19,74.12 624.96,78.23 625.75,81.40 C626.54,84.57 627.32,87.23 628.13,89.50 C628.93,91.77 629.74,93.38 630.60,95.00 C631.45,96.62 632.31,98.07 633.27,99.20 C634.22,100.33 635.26,101.13 636.33,101.80 C637.40,102.47 638.41,102.87 639.69,103.20 C640.98,103.53 642.56,103.75 644.04,103.80 C645.53,103.85 646.99,103.67 648.59,103.50 C650.19,103.33 651.66,102.87 653.63,102.80 C655.61,102.73 657.67,103.10 660.45,103.10 C663.24,103.10 668.69,102.85 670.34,102.80" fill="none" stroke="#000" stroke-width="1.4" stroke-dasharray="1.4 1.3" stroke-linejoin="round" />
<path d="M389.30,104.80 C389.92,104.93 391.50,105.35 393.00,105.60 C394.50,105.85 396.63,106.35 398.30,106.30 C399.97,106.25 401.30,105.58 403.00,105.30 C404.70,105.02 406.92,104.58 408.50,104.60 C410.08,104.62 411.13,105.12 412.50,105.40 C413.87,105.68 415.28,106.32 416.70,106.30 C418.12,106.28 419.53,105.53 421.00,105.30 C422.47,105.07 424.17,104.82 425.50,104.90 C426.83,104.98 427.83,105.40 429.00,105.80 C430.17,106.20 431.33,106.60 432.50,107.30 C433.67,108.00 434.92,109.00 436.00,110.00 C437.08,111.00 438.19,112.03 439.00,113.30 C439.81,114.57 440.22,115.64 440.87,117.60 C441.51,119.56 442.19,121.84 442.87,125.06 C443.54,128.28 444.18,133.05 444.93,136.92 C445.68,140.79 446.58,144.40 447.36,148.27 C448.14,152.15 448.82,156.65 449.60,160.18 C450.38,163.71 451.27,166.75 452.05,169.46 C452.83,172.18 453.59,174.68 454.25,176.47 C454.92,178.25 455.52,179.34 456.07,180.17 C456.61,181.01 457.03,181.48 457.50,181.48 C457.97,181.48 458.37,181.12 458.90,180.17 C459.42,179.23 460.14,177.67 460.66,175.81 C461.17,173.96 461.55,171.54 462.01,169.02 C462.48,166.50 462.95,163.66 463.46,160.68 C463.97,157.70 464.56,154.32 465.08,151.14 C465.60,147.96 466.08,144.81 466.56,141.61 C467.04,138.40 467.45,134.82 467.94,131.90 C468.43,128.98 468.95,126.46 469.52,124.10 C470.08,121.74 470.70,119.53 471.33,117.75 C471.96,115.97 472.64,114.61 473.32,113.39 C474.01,112.17 474.68,111.23 475.43,110.42 C476.17,109.62 476.87,109.00 477.80,108.59 C478.73,108.17 479.80,108.04 481.00,107.94 C482.20,107.84 483.50,107.86 485.00,107.97 C486.50,108.09 487.62,108.48 490.00,108.60 C492.38,108.72 496.18,108.89 499.30,108.71 C502.42,108.53 505.58,107.55 508.70,107.52 C511.82,107.49 514.67,108.56 518.00,108.53 C521.33,108.50 525.53,107.72 528.70,107.34 C531.87,106.96 534.12,106.54 537.00,106.25 C539.88,105.96 543.00,105.46 546.00,105.60 C549.00,105.74 552.50,107.01 555.00,107.10 C557.50,107.19 559.17,106.46 561.00,106.16 C562.83,105.86 563.95,105.16 566.00,105.30 C568.05,105.44 571.38,106.94 573.30,107.02 C575.22,107.10 576.17,106.50 577.50,105.80 C578.83,105.10 579.90,104.05 581.30,102.80 C582.70,101.55 584.35,99.88 585.90,98.30 C587.45,96.72 589.25,95.18 590.62,93.30 C591.99,91.42 593.00,89.30 594.15,87.00 C595.29,84.70 596.48,82.17 597.51,79.50 C598.55,76.83 599.46,73.83 600.37,71.00 C601.28,68.17 602.21,65.25 602.97,62.50 C603.73,59.75 604.20,56.95 604.91,54.50 C605.63,52.05 606.53,49.58 607.25,47.78 C607.96,45.97 608.61,44.98 609.22,43.69 C609.83,42.40 610.27,41.15 610.90,40.05 C611.53,38.95 612.32,37.42 613.00,37.10 C613.68,36.77 614.32,37.23 615.00,38.10 C615.68,38.97 616.44,40.38 617.10,42.33 C617.75,44.28 618.29,46.92 618.91,49.80 C619.53,52.68 620.11,56.15 620.82,59.60 C621.54,63.05 622.43,66.87 623.21,70.50 C623.99,74.13 624.74,78.23 625.50,81.40 C626.27,84.57 627.02,87.23 627.81,89.50 C628.59,91.77 629.38,93.38 630.21,95.00 C631.04,96.62 631.87,98.07 632.80,99.20 C633.73,100.33 634.74,101.13 635.78,101.80 C636.82,102.47 637.77,102.87 639.04,103.20 C640.31,103.53 641.91,103.75 643.40,103.80 C644.89,103.85 646.38,103.67 648.00,103.50 C649.62,103.33 651.10,102.87 653.10,102.80 C655.10,102.73 657.18,103.10 660.00,103.10 C662.82,103.10 668.33,102.85 670.00,102.80" fill="none" stroke="#222" stroke-width="1.3" stroke-dasharray="5 3" stroke-linejoin="round" />
<path d="M389.30,104.83 C389.92,105.01 391.50,105.60 393.00,105.94 C394.50,106.29 396.63,106.91 398.30,106.90 C399.97,106.89 401.30,106.18 403.00,105.90 C404.70,105.62 406.92,105.18 408.50,105.20 C410.08,105.22 411.13,105.72 412.50,106.00 C413.87,106.28 415.28,106.91 416.70,106.90 C418.12,106.88 419.53,106.13 421.00,105.91 C422.47,105.69 424.17,105.46 425.50,105.56 C426.83,105.65 427.83,106.08 429.00,106.49 C430.17,106.90 431.33,107.31 432.50,108.02 C433.67,108.74 434.92,109.75 436.00,110.76 C437.08,111.77 438.16,112.84 439.00,114.09 C439.84,115.34 440.30,116.38 441.04,118.27 C441.78,120.16 442.66,122.34 443.44,125.41 C444.22,128.48 444.95,133.03 445.73,136.71 C446.52,140.40 447.38,143.79 448.16,147.52 C448.94,151.24 449.64,155.65 450.40,159.08 C451.16,162.51 451.97,165.46 452.70,168.09 C453.43,170.73 454.13,173.16 454.77,174.90 C455.41,176.64 455.99,177.71 456.51,178.53 C457.03,179.34 457.40,179.81 457.90,179.81 C458.40,179.81 458.92,179.45 459.54,178.53 C460.15,177.60 460.99,176.05 461.59,174.26 C462.20,172.48 462.62,170.20 463.15,167.82 C463.69,165.43 464.26,162.80 464.81,159.97 C465.36,157.14 465.94,153.90 466.45,150.83 C466.96,147.77 467.42,144.64 467.89,141.58 C468.35,138.52 468.75,135.18 469.23,132.50 C469.72,129.82 470.24,127.62 470.80,125.50 C471.36,123.38 471.98,121.45 472.60,119.80 C473.22,118.15 473.85,116.77 474.50,115.60 C475.15,114.43 475.80,113.57 476.50,112.80 C477.20,112.03 477.87,111.43 478.70,111.00 C479.53,110.57 480.45,110.33 481.50,110.22 C482.55,110.12 483.58,110.20 485.00,110.35 C486.42,110.50 487.62,110.98 490.00,111.10 C492.38,111.22 496.18,111.29 499.30,111.06 C502.42,110.82 505.58,109.79 508.70,109.71 C511.82,109.63 514.67,110.64 518.00,110.57 C521.33,110.49 525.53,109.50 528.70,109.27 C531.87,109.03 534.12,109.11 537.00,109.15 C539.88,109.19 543.00,109.35 546.00,109.48 C549.00,109.60 552.50,109.94 555.00,109.90 C557.50,109.86 559.17,109.50 561.00,109.26 C562.83,109.02 563.95,108.71 566.00,108.46 C568.05,108.21 571.32,108.21 573.30,107.77 C575.28,107.32 576.44,106.63 577.90,105.80 C579.36,104.97 580.62,104.05 582.05,102.80 C583.49,101.55 585.00,99.88 586.50,98.30 C588.00,96.72 589.72,95.18 591.06,93.30 C592.40,91.42 593.42,89.30 594.57,87.00 C595.72,84.70 596.92,82.17 597.97,79.50 C599.02,76.83 599.94,73.83 600.85,71.00 C601.76,68.17 602.69,65.25 603.43,62.50 C604.17,59.75 604.60,56.95 605.29,54.50 C605.97,52.05 606.83,49.58 607.51,47.78 C608.20,45.97 608.82,44.98 609.40,43.69 C609.98,42.39 610.40,41.13 611.00,40.01 C611.60,38.90 612.35,37.32 613.00,37.00 C613.65,36.68 614.25,37.18 614.90,38.07 C615.55,38.96 616.26,40.38 616.90,42.33 C617.54,44.29 618.11,46.92 618.73,49.80 C619.36,52.68 619.94,56.15 620.67,59.60 C621.39,63.05 622.29,66.87 623.08,70.50 C623.87,74.13 624.63,78.23 625.40,81.40 C626.18,84.57 626.93,87.23 627.72,89.50 C628.51,91.77 629.30,93.38 630.14,95.00 C630.98,96.62 631.82,98.04 632.75,99.20 C633.68,100.36 634.70,101.12 635.75,101.94 C636.79,102.77 637.76,103.65 639.03,104.16 C640.31,104.67 641.91,104.91 643.40,105.00 C644.89,105.09 646.38,104.87 648.00,104.70 C649.62,104.53 651.10,104.07 653.10,104.00 C655.10,103.93 657.18,104.30 660.00,104.30 C662.82,104.30 668.33,104.05 670.00,104.00" fill="none" stroke="#e02a2a" stroke-width="1.4" stroke-linejoin="round" />
<path d="M389.30,104.80 C389.92,104.93 391.50,105.35 393.00,105.60 C394.50,105.85 396.63,106.35 398.30,106.30 C399.97,106.25 401.30,105.58 403.00,105.30 C404.70,105.02 406.92,104.58 408.50,104.60 C410.08,104.62 411.13,105.12 412.50,105.40 C413.87,105.68 415.28,106.32 416.70,106.30 C418.12,106.28 419.53,105.53 421.00,105.30 C422.47,105.07 424.17,104.82 425.50,104.90 C426.83,104.98 427.83,105.40 429.00,105.80 C430.17,106.20 431.33,106.60 432.50,107.30 C433.67,108.00 434.92,109.00 436.00,110.00 C437.08,111.00 438.14,112.03 439.00,113.30 C439.86,114.57 440.36,115.65 441.17,117.60 C441.98,119.55 443.00,121.90 443.87,125.02 C444.74,128.14 445.53,132.68 446.37,136.31 C447.20,139.93 448.07,143.17 448.88,146.76 C449.69,150.34 450.45,154.56 451.20,157.83 C451.94,161.10 452.67,163.88 453.35,166.39 C454.03,168.90 454.70,171.21 455.29,172.88 C455.87,174.55 456.39,175.61 456.86,176.40 C457.33,177.19 457.64,177.64 458.10,177.64 C458.56,177.64 459.03,177.30 459.59,176.40 C460.16,175.50 460.92,173.95 461.49,172.26 C462.07,170.57 462.52,168.46 463.06,166.26 C463.60,164.06 464.17,161.68 464.72,159.04 C465.27,156.41 465.86,153.36 466.38,150.44 C466.90,147.53 467.38,144.53 467.85,141.54 C468.32,138.55 468.73,135.17 469.22,132.50 C469.71,129.83 470.24,127.62 470.80,125.50 C471.36,123.38 471.98,121.45 472.60,119.80 C473.22,118.15 473.85,116.77 474.50,115.60 C475.15,114.43 475.80,113.57 476.50,112.80 C477.20,112.03 477.87,111.45 478.70,111.00 C479.53,110.55 480.45,110.29 481.50,110.12 C482.55,109.95 483.58,109.95 485.00,110.00 C486.42,110.05 487.62,110.35 490.00,110.40 C492.38,110.45 496.18,110.57 499.30,110.32 C502.42,110.08 505.58,109.04 508.70,108.95 C511.82,108.86 514.67,109.83 518.00,109.77 C521.33,109.71 525.53,108.79 528.70,108.60 C531.87,108.40 534.12,108.54 537.00,108.61 C539.88,108.67 543.00,108.87 546.00,109.01 C549.00,109.16 552.50,109.50 555.00,109.49 C557.50,109.47 559.17,109.11 561.00,108.90 C562.83,108.69 563.95,108.42 566.00,108.23 C568.05,108.03 571.38,108.13 573.30,107.72 C575.22,107.32 576.18,106.62 577.50,105.80 C578.82,104.98 579.88,104.05 581.21,102.80 C582.54,101.55 584.05,99.88 585.50,98.30 C586.95,96.72 588.59,95.18 589.90,93.30 C591.21,91.42 592.21,89.30 593.35,87.00 C594.48,84.70 595.67,82.17 596.71,79.50 C597.75,76.83 598.66,73.83 599.57,71.00 C600.47,68.17 601.40,65.25 602.14,62.50 C602.89,59.75 603.34,56.96 604.03,54.50 C604.72,52.04 605.58,49.56 606.29,47.74 C607.00,45.92 607.63,44.91 608.27,43.60 C608.91,42.29 609.44,41.01 610.15,39.88 C610.86,38.74 611.78,37.12 612.50,36.80 C613.22,36.48 613.80,37.02 614.47,37.93 C615.14,38.85 615.88,40.29 616.54,42.27 C617.19,44.25 617.77,46.91 618.41,49.80 C619.05,52.69 619.64,56.15 620.38,59.60 C621.12,63.05 622.03,66.87 622.84,70.50 C623.64,74.13 624.42,78.23 625.20,81.40 C625.99,84.57 626.75,87.23 627.55,89.50 C628.35,91.77 629.15,93.38 630.00,95.00 C630.85,96.62 631.70,98.07 632.65,99.20 C633.60,100.33 634.63,101.13 635.69,101.80 C636.75,102.47 637.73,102.87 639.02,103.20 C640.31,103.53 641.90,103.75 643.40,103.80 C644.90,103.85 646.38,103.67 648.00,103.50 C649.62,103.33 651.10,102.87 653.10,102.80 C655.10,102.73 657.18,103.10 660.00,103.10 C662.82,103.10 668.33,102.85 670.00,102.80" fill="none" stroke="#3ec43e" stroke-width="1.4" stroke-linejoin="round" />
<path d="M389.30,104.80 C389.92,104.93 391.50,105.35 393.00,105.60 C394.50,105.85 396.63,106.35 398.30,106.30 C399.97,106.25 401.30,105.58 403.00,105.30 C404.70,105.02 406.92,104.58 408.50,104.60 C410.08,104.62 411.13,105.12 412.50,105.40 C413.87,105.68 415.28,106.32 416.70,106.30 C418.12,106.28 419.53,105.53 421.00,105.30 C422.47,105.07 424.17,104.82 425.50,104.90 C426.83,104.98 427.83,105.40 429.00,105.80 C430.17,106.20 431.33,106.60 432.50,107.30 C433.67,108.00 434.92,109.00 436.00,110.00 C437.08,111.00 438.12,112.03 439.00,113.30 C439.88,114.57 440.42,115.65 441.30,117.60 C442.18,119.55 443.35,121.93 444.30,125.00 C445.25,128.07 446.12,132.50 447.00,136.00 C447.88,139.50 448.77,142.58 449.60,146.00 C450.43,149.42 451.27,153.42 452.00,156.50 C452.73,159.58 453.37,162.15 454.00,164.50 C454.63,166.85 455.27,169.02 455.80,170.60 C456.33,172.18 456.78,173.23 457.20,174.00 C457.62,174.77 457.90,175.20 458.30,175.20 C458.70,175.20 459.10,174.87 459.60,174.00 C460.10,173.13 460.75,171.58 461.30,170.00 C461.85,168.42 462.35,166.50 462.90,164.50 C463.45,162.50 464.03,160.42 464.60,158.00 C465.17,155.58 465.77,152.75 466.30,150.00 C466.83,147.25 467.32,144.42 467.80,141.50 C468.28,138.58 468.70,135.17 469.20,132.50 C469.70,129.83 470.23,127.62 470.80,125.50 C471.37,123.38 471.98,121.45 472.60,119.80 C473.22,118.15 473.85,116.77 474.50,115.60 C475.15,114.43 475.80,113.57 476.50,112.80 C477.20,112.03 477.87,111.47 478.70,111.00 C479.53,110.53 480.45,110.23 481.50,110.00 C482.55,109.77 483.58,109.67 485.00,109.60 C486.42,109.53 487.62,109.63 490.00,109.60 C492.38,109.57 496.18,109.68 499.30,109.40 C502.42,109.12 505.58,108.03 508.70,107.90 C511.82,107.77 514.67,108.63 518.00,108.60 C521.33,108.57 525.53,107.80 528.70,107.70 C531.87,107.60 534.12,107.85 537.00,108.00 C539.88,108.15 543.00,108.40 546.00,108.60 C549.00,108.80 552.50,109.18 555.00,109.20 C557.50,109.22 559.17,108.88 561.00,108.70 C562.83,108.52 563.95,108.27 566.00,108.10 C568.05,107.93 571.38,108.08 573.30,107.70 C575.22,107.32 576.20,106.62 577.50,105.80 C578.80,104.98 579.85,104.05 581.10,102.80 C582.35,101.55 583.68,99.88 585.00,98.30 C586.32,96.72 587.78,95.18 589.00,93.30 C590.22,91.42 591.20,89.30 592.30,87.00 C593.40,84.70 594.58,82.17 595.60,79.50 C596.62,76.83 597.50,73.83 598.40,71.00 C599.30,68.17 600.23,65.25 601.00,62.50 C601.77,59.75 602.27,56.87 603.00,54.50 C603.73,52.13 604.65,49.88 605.40,48.30 C606.15,46.72 606.82,46.00 607.50,45.00 C608.18,44.00 608.75,43.03 609.50,42.30 C610.25,41.57 611.25,40.75 612.00,40.60 C612.75,40.45 613.32,40.70 614.00,41.40 C614.68,42.10 615.43,43.20 616.10,44.80 C616.77,46.40 617.35,48.47 618.00,51.00 C618.65,53.53 619.25,56.75 620.00,60.00 C620.75,63.25 621.68,66.93 622.50,70.50 C623.32,74.07 624.10,78.23 624.90,81.40 C625.70,84.57 626.48,87.23 627.30,89.50 C628.12,91.77 628.93,93.38 629.80,95.00 C630.67,96.62 631.53,98.07 632.50,99.20 C633.47,100.33 634.52,101.13 635.60,101.80 C636.68,102.47 637.70,102.87 639.00,103.20 C640.30,103.53 641.90,103.75 643.40,103.80 C644.90,103.85 646.38,103.67 648.00,103.50 C649.62,103.33 651.10,102.87 653.10,102.80 C655.10,102.73 657.18,103.10 660.00,103.10 C662.82,103.10 668.33,102.85 670.00,102.80" fill="none" stroke="#3556b8" stroke-width="1.5" stroke-linejoin="round" />
<rect x="570.70" y="131.00" width="97.30" height="66.00" fill="#fff" stroke="#6a6a6a" stroke-width="1.1"/>
<line x1="571.70" y1="144.20" x2="667.00" y2="144.20" stroke="#666" stroke-width="1.3" stroke-dasharray="4.4 7.35" stroke-dashoffset="1.2"/>
<line x1="571.70" y1="144.20" x2="667.00" y2="144.20" stroke="#aaa" stroke-width="1.1" stroke-dasharray="0 6.4 0.7 1.9 0.7 2.05" stroke-dashoffset="1.2"/>
<line x1="571.70" y1="157.40" x2="667.00" y2="157.40" stroke="#666" stroke-width="1.3" stroke-dasharray="4.4 7.35" stroke-dashoffset="1.2"/>
<line x1="571.70" y1="157.40" x2="667.00" y2="157.40" stroke="#aaa" stroke-width="1.1" stroke-dasharray="0 6.4 0.7 1.9 0.7 2.05" stroke-dashoffset="1.2"/>
<line x1="571.70" y1="170.60" x2="667.00" y2="170.60" stroke="#666" stroke-width="1.3" stroke-dasharray="4.4 7.35" stroke-dashoffset="1.2"/>
<line x1="571.70" y1="170.60" x2="667.00" y2="170.60" stroke="#aaa" stroke-width="1.1" stroke-dasharray="0 6.4 0.7 1.9 0.7 2.05" stroke-dashoffset="1.2"/>
<line x1="571.70" y1="183.80" x2="667.00" y2="183.80" stroke="#666" stroke-width="1.3" stroke-dasharray="4.4 7.35" stroke-dashoffset="1.2"/>
<line x1="571.70" y1="183.80" x2="667.00" y2="183.80" stroke="#aaa" stroke-width="1.1" stroke-dasharray="0 6.4 0.7 1.9 0.7 2.05" stroke-dashoffset="1.2"/>
<text transform="translate(568.80,133.50) scale(0.8,1)" font-family="Liberation Serif, serif" font-size="7.3" font-weight="bold" text-anchor="end" fill="#1a1a1a" stroke="#1a1a1a" stroke-width="0.15">20</text>
<text transform="translate(568.80,146.70) scale(0.8,1)" font-family="Liberation Serif, serif" font-size="7.3" font-weight="bold" text-anchor="end" fill="#1a1a1a" stroke="#1a1a1a" stroke-width="0.15">0</text>
<text transform="translate(568.80,159.90) scale(0.8,1)" font-family="Liberation Serif, serif" font-size="7.3" font-weight="bold" text-anchor="end" fill="#1a1a1a" stroke="#1a1a1a" stroke-width="0.15">-20</text>
<text transform="translate(568.80,173.10) scale(0.8,1)" font-family="Liberation Serif, serif" font-size="7.3" font-weight="bold" text-anchor="end" fill="#1a1a1a" stroke="#1a1a1a" stroke-width="0.15">-40</text>
<text transform="translate(568.80,186.30) scale(0.8,1)" font-family="Liberation Serif, serif" font-size="7.3" font-weight="bold" text-anchor="end" fill="#1a1a1a" stroke="#1a1a1a" stroke-width="0.15">-60</text>
<text transform="translate(568.80,199.50) scale(0.8,1)" font-family="Liberation Serif, serif" font-size="7.3" font-weight="bold" text-anchor="end" fill="#1a1a1a" stroke="#1a1a1a" stroke-width="0.15">-80</text>
<line x1="594.10" y1="131.00" x2="594.10" y2="197.00" stroke="#6a6a6a" stroke-width="1.0"/>
<line x1="648.00" y1="131.00" x2="648.00" y2="197.00" stroke="#6a6a6a" stroke-width="1.0"/>
<text transform="translate(555.90,163.20) rotate(-90)" font-family="Liberation Serif, serif" font-size="6.9" font-weight="bold" text-anchor="middle" fill="#111" stroke="#111" stroke-width="0.2" textLength="59.5" lengthAdjust="spacingAndGlyphs">Electric field (kV/mm)</text>
<path d="M570.80,137.40 C571.67,137.53 574.13,137.90 576.00,138.20 C577.87,138.50 580.33,138.90 582.00,139.20 C583.67,139.50 584.92,139.62 586.00,140.00 C587.08,140.38 587.75,140.75 588.50,141.50 C589.25,142.25 589.83,142.92 590.50,144.50 C591.17,146.08 591.92,148.83 592.50,151.00 C593.08,153.17 593.42,155.42 594.00,157.50 C594.58,159.58 595.33,161.83 596.00,163.50 C596.67,165.17 597.33,166.50 598.00,167.50 C598.67,168.50 598.67,168.72 600.00,169.50 C601.33,170.28 603.50,171.20 606.00,172.20 C608.50,173.20 611.83,174.33 615.00,175.50 C618.17,176.67 622.00,178.03 625.00,179.20 C628.00,180.37 631.00,181.75 633.00,182.50 C635.00,183.25 635.83,183.70 637.00,183.70 C638.17,183.70 639.00,183.37 640.00,182.50 C641.00,181.63 642.00,180.58 643.00,178.50 C644.00,176.42 645.08,172.92 646.00,170.00 C646.92,167.08 647.67,163.50 648.50,161.00 C649.33,158.50 650.08,156.47 651.00,155.00 C651.92,153.53 652.83,152.77 654.00,152.20 C655.17,151.63 655.75,151.70 658.00,151.60 C660.25,151.50 665.92,151.60 667.50,151.60" fill="none" stroke="#3a5fc0" stroke-width="1.3" stroke-linejoin="round" />
<path d="M388.80,10.50 H670.50 V200.30 H388.80 Z" fill="none" stroke="#505050" stroke-width="1.6"/>
<line x1="388.80" y1="200.30" x2="392.80" y2="200.30" stroke="#505050" stroke-width="1.2"/>
<line x1="388.80" y1="176.57" x2="392.80" y2="176.57" stroke="#505050" stroke-width="1.2"/>
<line x1="388.80" y1="152.85" x2="392.80" y2="152.85" stroke="#505050" stroke-width="1.2"/>
<line x1="388.80" y1="129.12" x2="392.80" y2="129.12" stroke="#505050" stroke-width="1.2"/>
<line x1="388.80" y1="105.40" x2="392.80" y2="105.40" stroke="#505050" stroke-width="1.2"/>
<line x1="388.80" y1="81.68" x2="392.80" y2="81.68" stroke="#505050" stroke-width="1.2"/>
<line x1="388.80" y1="57.95" x2="392.80" y2="57.95" stroke="#505050" stroke-width="1.2"/>
<line x1="388.80" y1="34.23" x2="392.80" y2="34.23" stroke="#505050" stroke-width="1.2"/>
<line x1="388.80" y1="10.50" x2="392.80" y2="10.50" stroke="#505050" stroke-width="1.2"/>
<line x1="388.80" y1="200.30" x2="388.80" y2="196.80" stroke="#505050" stroke-width="1.2"/>
<line x1="422.75" y1="200.30" x2="422.75" y2="197.80" stroke="#505050" stroke-width="1.2"/>
<line x1="456.70" y1="200.30" x2="456.70" y2="196.80" stroke="#505050" stroke-width="1.2"/>
<line x1="490.65" y1="200.30" x2="490.65" y2="197.80" stroke="#505050" stroke-width="1.2"/>
<line x1="524.60" y1="200.30" x2="524.60" y2="196.80" stroke="#505050" stroke-width="1.2"/>
<line x1="558.55" y1="200.30" x2="558.55" y2="197.80" stroke="#505050" stroke-width="1.2"/>
<line x1="592.50" y1="200.30" x2="592.50" y2="196.80" stroke="#505050" stroke-width="1.2"/>
<line x1="626.45" y1="200.30" x2="626.45" y2="197.80" stroke="#505050" stroke-width="1.2"/>
<line x1="660.40" y1="200.30" x2="660.40" y2="196.80" stroke="#505050" stroke-width="1.2"/>
<text x="402.70" y="25.50" font-family="Liberation Sans, sans-serif" font-size="10.5" font-weight="bold" text-anchor="start" fill="#111" stroke="#111" stroke-width="0.3">Cathode</text>
<text x="463.10" y="27.90" font-family="Liberation Sans, sans-serif" font-size="10.5" font-weight="bold" text-anchor="start" fill="#111" stroke="#111" stroke-width="0.3">0.005 wt% LDPE NCs</text>
<text x="626.60" y="25.30" font-family="Liberation Sans, sans-serif" font-size="10.5" font-weight="bold" text-anchor="start" fill="#111" stroke="#111" stroke-width="0.3">Anode</text>
<line x1="464.20" y1="39.90" x2="489.10" y2="39.90" stroke="#222" stroke-width="1.1" stroke-dasharray="1.1 1.1"/>
<text x="496.10" y="43.20" font-family="Liberation Sans, sans-serif" font-size="10.4" font-weight="bold" text-anchor="start" fill="#111" stroke="#111" stroke-width="0.3">10 s</text>
<line x1="464.20" y1="51.80" x2="489.10" y2="51.80" stroke="#444" stroke-width="1.4" stroke-dasharray="7 4"/>
<text x="496.10" y="55.10" font-family="Liberation Sans, sans-serif" font-size="10.4" font-weight="bold" text-anchor="start" fill="#111" stroke="#111" stroke-width="0.3">30 s</text>
<line x1="464.20" y1="64.10" x2="489.10" y2="64.10" stroke="#e03a3a" stroke-width="1.4"/>
<text x="496.10" y="67.40" font-family="Liberation Sans, sans-serif" font-size="10.4" font-weight="bold" text-anchor="start" fill="#111" stroke="#111" stroke-width="0.3">300 s</text>
<line x1="464.20" y1="75.80" x2="489.10" y2="75.80" stroke="#5ccc5c" stroke-width="1.4"/>
<text x="496.10" y="79.10" font-family="Liberation Sans, sans-serif" font-size="10.4" font-weight="bold" text-anchor="start" fill="#111" stroke="#111" stroke-width="0.3">900 s</text>
<line x1="464.20" y1="88.00" x2="489.10" y2="88.00" stroke="#4a6cc8" stroke-width="1.4"/>
<text x="496.10" y="91.30" font-family="Liberation Sans, sans-serif" font-size="10.4" font-weight="bold" text-anchor="start" fill="#111" stroke="#111" stroke-width="0.3">1800 s</text>
<text x="2.00" y="252.10" font-family="Liberation Sans, sans-serif" font-size="17.5" font-weight="bold" text-anchor="start" fill="#111" stroke="#111" stroke-width="0.1">c</text>
<text x="39.60" y="440.40" font-family="Liberation Sans, sans-serif" font-size="10" font-weight="bold" text-anchor="end" fill="#111" stroke="#111" stroke-width="0.3">-40</text>
<text x="39.60" y="416.68" font-family="Liberation Sans, sans-serif" font-size="10" font-weight="bold" text-anchor="end" fill="#111" stroke="#111" stroke-width="0.3">-30</text>
<text x="39.60" y="392.95" font-family="Liberation Sans, sans-serif" font-size="10" font-weight="bold" text-anchor="end" fill="#111" stroke="#111" stroke-width="0.3">-20</text>
<text x="39.60" y="369.23" font-family="Liberation Sans, sans-serif" font-size="10" font-weight="bold" text-anchor="end" fill="#111" stroke="#111" stroke-width="0.3">-10</text>
<text x="39.60" y="345.50" font-family="Liberation Sans, sans-serif" font-size="10" font-weight="bold" text-anchor="end" fill="#111" stroke="#111" stroke-width="0.3">0</text>
<text x="39.60" y="321.77" font-family="Liberation Sans, sans-serif" font-size="10" font-weight="bold" text-anchor="end" fill="#111" stroke="#111" stroke-width="0.3">10</text>
<text x="39.60" y="298.05" font-family="Liberation Sans, sans-serif" font-size="10" font-weight="bold" text-anchor="end" fill="#111" stroke="#111" stroke-width="0.3">20</text>
<text x="39.60" y="274.32" font-family="Liberation Sans, sans-serif" font-size="10" font-weight="bold" text-anchor="end" fill="#111" stroke="#111" stroke-width="0.3">30</text>
<text x="39.60" y="250.60" font-family="Liberation Sans, sans-serif" font-size="10" font-weight="bold" text-anchor="end" fill="#111" stroke="#111" stroke-width="0.3">40</text>
<text x="46.00" y="448.60" font-family="Liberation Sans, sans-serif" font-size="10.3" font-weight="bold" text-anchor="middle" fill="#111" stroke="#111" stroke-width="0.3">0</text>
<text x="113.75" y="448.60" font-family="Liberation Sans, sans-serif" font-size="10.3" font-weight="bold" text-anchor="middle" fill="#111" stroke="#111" stroke-width="0.3">100</text>
<text x="181.50" y="448.60" font-family="Liberation Sans, sans-serif" font-size="10.3" font-weight="bold" text-anchor="middle" fill="#111" stroke="#111" stroke-width="0.3">200</text>
<text x="249.25" y="448.60" font-family="Liberation Sans, sans-serif" font-size="10.3" font-weight="bold" text-anchor="middle" fill="#111" stroke="#111" stroke-width="0.3">300</text>
<text x="317.00" y="448.60" font-family="Liberation Sans, sans-serif" font-size="10.3" font-weight="bold" text-anchor="middle" fill="#111" stroke="#111" stroke-width="0.3">400</text>
<text x="183.30" y="459.40" font-family="Liberation Sans, sans-serif" font-size="10.5" font-weight="bold" text-anchor="middle" fill="#111" stroke="#111" stroke-width="0.3">Thickness (&#956;m)</text>
<text transform="translate(15.00,341.40) rotate(-90)" font-family="Liberation Sans, sans-serif" font-size="10.6" font-weight="bold" text-anchor="middle" fill="#111" stroke="#111" stroke-width="0.3">Charge density (C/m<tspan font-size="7" dy="-4.8">3</tspan><tspan dy="4.8">)</tspan></text>
<line x1="112.40" y1="247.00" x2="112.40" y2="436.80" stroke="#8a8a8a" stroke-width="1.2"/>
<line x1="268.20" y1="247.00" x2="268.20" y2="366.40" stroke="#8a8a8a" stroke-width="1.2"/>
<line x1="45.20" y1="342.20" x2="324.80" y2="342.20" stroke="#8a8a8a" stroke-width="1.1" stroke-dasharray="4 2 0.8 1.95 0.8 2.2" stroke-dashoffset="1.55"/>
<path d="M44.50,341.90 C45.25,341.97 47.37,342.17 49.00,342.30 C50.63,342.43 52.63,342.78 54.30,342.70 C55.97,342.62 57.30,342.10 59.00,341.80 C60.70,341.50 62.83,340.90 64.50,340.90 C66.17,340.90 67.47,341.50 69.00,341.80 C70.53,342.10 72.20,342.70 73.70,342.70 C75.20,342.70 76.45,342.10 78.00,341.80 C79.55,341.50 81.50,340.87 83.00,340.90 C84.50,340.93 85.67,341.43 87.00,342.00 C88.33,342.57 89.75,343.55 91.00,344.30 C92.25,345.05 93.54,345.63 94.50,346.50 C95.46,347.37 96.09,348.28 96.76,349.50 C97.43,350.72 97.98,352.05 98.52,353.80 C99.06,355.55 99.52,357.97 99.99,360.00 C100.47,362.03 100.93,364.08 101.38,366.00 C101.82,367.92 102.16,369.58 102.66,371.50 C103.15,373.42 103.84,375.83 104.34,377.50 C104.83,379.17 105.18,380.17 105.62,381.50 C106.07,382.83 106.47,383.58 107.00,385.50 C107.54,387.42 108.26,390.54 108.83,393.00 C109.40,395.46 110.00,398.30 110.45,400.25 C110.90,402.20 111.17,403.52 111.53,404.71 C111.89,405.89 112.23,406.88 112.58,407.34 C112.93,407.80 113.27,407.75 113.62,407.47 C113.97,407.20 114.30,406.60 114.68,405.68 C115.06,404.76 115.22,403.93 115.89,401.96 C116.56,399.99 117.82,396.46 118.69,393.85 C119.57,391.24 120.36,388.75 121.16,386.31 C121.96,383.86 122.64,381.64 123.48,379.19 C124.32,376.74 125.31,374.07 126.20,371.61 C127.09,369.16 128.00,366.57 128.80,364.46 C129.60,362.35 130.27,360.63 131.00,358.97 C131.73,357.32 132.39,355.67 133.20,354.52 C134.01,353.38 135.05,352.73 135.88,352.10 C136.72,351.47 137.26,351.15 138.22,350.74 C139.17,350.33 140.38,349.93 141.60,349.62 C142.82,349.32 144.12,349.18 145.52,348.94 C146.92,348.70 148.50,348.52 150.00,348.20 C151.50,347.88 153.03,347.31 154.50,347.03 C155.97,346.76 157.38,346.54 158.80,346.56 C160.22,346.59 161.52,346.99 163.00,347.20 C164.48,347.41 166.20,347.80 167.70,347.80 C169.20,347.80 170.52,347.32 172.00,347.20 C173.48,347.08 175.10,346.92 176.60,347.10 C178.10,347.28 179.53,347.88 181.00,348.30 C182.47,348.72 183.90,349.33 185.40,349.60 C186.90,349.87 188.52,349.82 190.00,349.90 C191.48,349.98 192.80,349.83 194.30,350.10 C195.80,350.37 197.52,351.00 199.00,351.50 C200.48,352.00 201.70,352.77 203.20,353.10 C204.70,353.43 206.52,353.40 208.00,353.50 C209.48,353.60 210.60,353.37 212.10,353.70 C213.60,354.03 215.52,354.92 217.00,355.50 C218.48,356.08 219.50,356.95 221.00,357.20 C222.50,357.45 224.52,357.00 226.00,357.00 C227.48,357.00 228.73,357.00 229.90,357.20 C231.07,357.40 232.12,357.90 233.00,358.20 C233.88,358.50 234.37,359.03 235.20,359.00 C236.03,358.97 237.07,358.73 238.00,358.00 C238.93,357.27 239.80,355.93 240.79,354.60 C241.79,353.27 243.04,351.85 243.97,350.00 C244.91,348.15 245.59,345.92 246.39,343.50 C247.19,341.08 248.00,338.17 248.78,335.50 C249.56,332.83 250.28,330.17 251.06,327.50 C251.84,324.83 252.68,322.25 253.46,319.50 C254.23,316.75 254.94,313.92 255.70,311.00 C256.46,308.08 257.23,305.00 258.00,302.00 C258.77,299.00 259.55,295.92 260.30,293.00 C261.05,290.08 261.80,287.25 262.52,284.50 C263.23,281.75 263.95,278.83 264.58,276.50 C265.21,274.17 265.81,272.05 266.30,270.50 C266.80,268.95 267.15,267.95 267.55,267.20 C267.95,266.45 268.33,265.90 268.72,266.00 C269.10,266.10 269.35,266.85 269.88,267.80 C270.41,268.75 271.25,269.83 271.90,271.70 C272.55,273.57 273.15,276.42 273.80,279.00 C274.45,281.58 275.15,284.20 275.80,287.20 C276.45,290.20 277.05,293.75 277.70,297.00 C278.35,300.25 279.05,303.57 279.70,306.70 C280.35,309.83 280.95,312.88 281.60,315.80 C282.25,318.72 282.95,321.72 283.60,324.20 C284.25,326.68 284.85,328.77 285.50,330.70 C286.15,332.63 286.70,334.35 287.50,335.80 C288.30,337.25 289.33,338.43 290.30,339.40 C291.27,340.37 292.18,341.10 293.30,341.60 C294.42,342.10 295.70,342.23 297.00,342.40 C298.30,342.57 298.93,342.62 301.10,342.60 C303.27,342.58 307.18,342.38 310.00,342.30 C312.82,342.22 315.50,342.15 318.00,342.10 C320.50,342.05 323.83,342.02 325.00,342.00" fill="none" stroke="#b5b5b5" stroke-width="1.2" stroke-dasharray="1.3 1.0" stroke-linejoin="round" />
<path d="M44.50,341.90 C45.25,341.97 47.37,342.17 49.00,342.30 C50.63,342.43 52.63,342.78 54.30,342.70 C55.97,342.62 57.30,342.10 59.00,341.80 C60.70,341.50 62.83,340.90 64.50,340.90 C66.17,340.90 67.47,341.50 69.00,341.80 C70.53,342.10 72.20,342.70 73.70,342.70 C75.20,342.70 76.45,342.10 78.00,341.80 C79.55,341.50 81.50,340.87 83.00,340.90 C84.50,340.93 85.67,341.43 87.00,342.00 C88.33,342.57 89.75,343.55 91.00,344.30 C92.25,345.05 93.55,345.63 94.50,346.50 C95.45,347.37 96.04,348.28 96.68,349.50 C97.32,350.72 97.84,352.04 98.36,353.80 C98.88,355.56 99.32,357.98 99.79,360.04 C100.26,362.10 100.73,364.20 101.17,366.16 C101.62,368.13 101.96,369.84 102.46,371.83 C102.95,373.81 103.64,376.35 104.14,378.09 C104.63,379.84 104.98,380.91 105.42,382.29 C105.87,383.67 106.28,384.42 106.80,386.37 C107.33,388.33 108.01,391.64 108.56,394.02 C109.11,396.40 109.68,398.87 110.11,400.65 C110.54,402.44 110.80,403.64 111.14,404.73 C111.49,405.82 111.83,406.69 112.18,407.18 C112.53,407.67 112.87,407.84 113.22,407.69 C113.57,407.54 113.90,407.04 114.26,406.26 C114.62,405.48 114.77,404.85 115.39,403.00 C116.01,401.14 117.17,397.74 117.99,395.14 C118.80,392.55 119.54,389.92 120.28,387.42 C121.02,384.92 121.65,382.65 122.44,380.13 C123.23,377.61 124.14,374.87 125.00,372.32 C125.86,369.77 126.80,367.09 127.60,364.86 C128.40,362.63 129.05,360.73 129.80,358.93 C130.54,357.14 131.22,355.36 132.07,354.09 C132.92,352.82 133.99,352.05 134.89,351.30 C135.78,350.55 136.36,350.07 137.43,349.62 C138.49,349.17 139.92,348.83 141.29,348.60 C142.65,348.37 144.15,348.32 145.60,348.22 C147.05,348.12 148.52,348.22 150.00,348.00 C151.48,347.78 153.03,347.17 154.50,346.93 C155.97,346.68 157.38,346.51 158.80,346.54 C160.22,346.57 161.52,346.95 163.00,347.12 C164.48,347.30 166.20,347.65 167.70,347.61 C169.20,347.57 170.52,347.05 172.00,346.90 C173.48,346.75 175.10,346.54 176.60,346.69 C178.10,346.83 179.53,347.40 181.00,347.78 C182.47,348.16 183.90,348.74 185.40,348.97 C186.90,349.19 188.52,349.10 190.00,349.15 C191.48,349.20 192.80,349.01 194.30,349.24 C195.80,349.47 197.52,350.05 199.00,350.52 C200.48,351.00 201.70,351.77 203.20,352.10 C204.70,352.43 206.52,352.40 208.00,352.50 C209.48,352.60 210.60,352.37 212.10,352.70 C213.60,353.03 215.52,353.92 217.00,354.50 C218.48,355.08 219.50,355.93 221.00,356.20 C222.50,356.47 224.52,356.02 226.00,356.09 C227.48,356.17 228.73,356.34 229.90,356.65 C231.07,356.95 232.12,357.55 233.00,357.93 C233.88,358.31 234.37,358.92 235.20,358.93 C236.03,358.94 237.06,358.72 238.00,358.00 C238.94,357.28 239.81,355.93 240.84,354.60 C241.87,353.27 243.22,351.85 244.20,350.00 C245.18,348.15 245.89,345.92 246.71,343.50 C247.54,341.08 248.36,338.17 249.16,335.50 C249.96,332.83 250.70,330.17 251.50,327.50 C252.29,324.83 253.16,322.25 253.94,319.50 C254.73,316.75 255.44,313.92 256.20,311.00 C256.96,308.08 257.73,305.00 258.50,302.00 C259.27,299.00 260.05,295.92 260.80,293.00 C261.55,290.08 262.30,287.25 262.99,284.50 C263.69,281.75 264.36,278.67 264.96,276.50 C265.56,274.33 266.13,272.71 266.60,271.50 C267.07,270.29 267.41,269.80 267.80,269.25 C268.19,268.70 268.57,268.39 268.92,268.19 C269.27,267.99 269.40,267.44 269.90,268.02 C270.40,268.60 271.25,269.87 271.90,271.70 C272.55,273.53 273.15,276.42 273.80,279.00 C274.45,281.58 275.15,284.20 275.80,287.20 C276.45,290.20 277.05,293.75 277.70,297.00 C278.35,300.25 279.05,303.57 279.70,306.70 C280.35,309.83 280.95,312.88 281.60,315.80 C282.25,318.72 282.95,321.72 283.60,324.20 C284.25,326.68 284.85,328.77 285.50,330.70 C286.15,332.63 286.70,334.35 287.50,335.80 C288.30,337.25 289.33,338.43 290.30,339.40 C291.27,340.37 292.18,341.10 293.30,341.60 C294.42,342.10 295.70,342.23 297.00,342.40 C298.30,342.57 298.93,342.62 301.10,342.60 C303.27,342.58 307.18,342.38 310.00,342.30 C312.82,342.22 315.50,342.15 318.00,342.10 C320.50,342.05 323.83,342.02 325.00,342.00" fill="none" stroke="#111" stroke-width="1.4" stroke-dasharray="5 1.5" stroke-linejoin="round" />
<path d="M44.50,341.90 C45.25,341.97 47.37,342.17 49.00,342.30 C50.63,342.43 52.63,342.78 54.30,342.70 C55.97,342.62 57.30,342.10 59.00,341.80 C60.70,341.50 62.83,340.90 64.50,340.90 C66.17,340.90 67.47,341.50 69.00,341.80 C70.53,342.10 72.20,342.70 73.70,342.70 C75.20,342.70 76.45,342.10 78.00,341.80 C79.55,341.50 81.50,340.87 83.00,340.90 C84.50,340.93 85.67,341.43 87.00,342.00 C88.33,342.57 89.75,343.55 91.00,344.30 C92.25,345.05 93.53,345.63 94.50,346.50 C95.47,347.37 96.14,348.28 96.84,349.50 C97.54,350.72 98.12,352.05 98.68,353.80 C99.24,355.55 99.71,357.97 100.19,360.02 C100.67,362.06 101.13,364.14 101.58,366.08 C102.02,368.02 102.37,369.71 102.86,371.66 C103.35,373.62 104.04,376.09 104.54,377.80 C105.03,379.50 105.38,380.54 105.82,381.90 C106.27,383.25 106.65,384.00 107.20,385.94 C107.76,387.87 108.54,391.15 109.17,393.51 C109.79,395.87 110.44,398.31 110.93,400.08 C111.42,401.84 111.73,403.04 112.11,404.12 C112.48,405.19 112.83,406.05 113.18,406.54 C113.53,407.03 113.87,407.20 114.22,407.04 C114.57,406.89 114.90,406.41 115.27,405.63 C115.64,404.86 115.80,404.23 116.44,402.40 C117.08,400.57 118.29,397.20 119.14,394.67 C119.99,392.14 120.75,389.62 121.52,387.21 C122.29,384.80 122.95,382.59 123.76,380.23 C124.57,377.86 125.53,375.35 126.40,373.00 C127.27,370.65 128.20,368.15 129.00,366.10 C129.80,364.05 130.47,362.34 131.20,360.70 C131.92,359.06 132.56,357.51 133.35,356.28 C134.14,355.04 135.11,354.10 135.94,353.30 C136.77,352.50 137.32,352.01 138.32,351.46 C139.33,350.91 140.68,350.43 141.96,350.03 C143.24,349.63 144.66,349.40 146.00,349.06 C147.34,348.72 148.58,348.37 150.00,348.00 C151.42,347.63 153.03,347.09 154.50,346.81 C155.97,346.53 157.38,346.28 158.80,346.32 C160.22,346.36 161.52,346.79 163.00,347.02 C164.48,347.26 166.20,347.72 167.70,347.74 C169.20,347.76 170.52,347.28 172.00,347.14 C173.48,347.00 175.10,346.76 176.60,346.90 C178.10,347.04 179.53,347.60 181.00,347.98 C182.47,348.35 183.90,348.94 185.40,349.17 C186.90,349.39 188.52,349.30 190.00,349.35 C191.48,349.40 192.80,349.21 194.30,349.44 C195.80,349.67 197.52,350.25 199.00,350.73 C200.48,351.20 201.70,351.97 203.20,352.30 C204.70,352.63 206.52,352.60 208.00,352.70 C209.48,352.80 210.60,352.57 212.10,352.90 C213.60,353.23 215.52,354.12 217.00,354.70 C218.48,355.28 219.50,356.14 221.00,356.40 C222.50,356.66 224.52,356.21 226.00,356.27 C227.48,356.33 228.73,356.47 229.90,356.76 C231.07,357.04 232.12,357.62 233.00,357.98 C233.88,358.35 234.37,358.94 235.20,358.94 C236.03,358.94 237.07,358.72 238.00,358.00 C238.93,357.28 239.79,355.93 240.75,354.60 C241.71,353.27 242.86,351.85 243.75,350.00 C244.64,348.15 245.29,345.92 246.06,343.50 C246.84,341.08 247.64,338.17 248.40,335.50 C249.16,332.83 249.87,330.17 250.63,327.50 C251.39,324.83 252.21,322.25 252.97,319.50 C253.73,316.75 254.44,313.92 255.20,311.00 C255.96,308.08 256.73,305.00 257.50,302.00 C258.27,299.00 259.04,295.92 259.80,293.00 C260.56,290.08 261.31,287.25 262.04,284.50 C262.77,281.75 263.54,278.71 264.20,276.50 C264.86,274.29 265.49,272.55 266.00,271.25 C266.51,269.95 266.85,269.32 267.25,268.70 C267.65,268.07 267.98,267.62 268.42,267.50 C268.85,267.38 269.27,267.25 269.85,267.95 C270.43,268.65 271.24,269.86 271.90,271.70 C272.56,273.54 273.15,276.42 273.80,279.00 C274.45,281.58 275.15,284.20 275.80,287.20 C276.45,290.20 277.05,293.75 277.70,297.00 C278.35,300.25 279.05,303.57 279.70,306.70 C280.35,309.83 280.95,312.88 281.60,315.80 C282.25,318.72 282.95,321.72 283.60,324.20 C284.25,326.68 284.85,328.77 285.50,330.70 C286.15,332.63 286.70,334.35 287.50,335.80 C288.30,337.25 289.33,338.43 290.30,339.40 C291.27,340.37 292.18,341.10 293.30,341.60 C294.42,342.10 295.70,342.23 297.00,342.40 C298.30,342.57 298.93,342.62 301.10,342.60 C303.27,342.58 307.18,342.38 310.00,342.30 C312.82,342.22 315.50,342.15 318.00,342.10 C320.50,342.05 323.83,342.02 325.00,342.00" fill="none" stroke="#d9343c" stroke-width="1.4" stroke-linejoin="round" />
<path d="M44.50,341.90 C45.25,341.97 47.37,342.17 49.00,342.30 C50.63,342.43 52.63,342.78 54.30,342.70 C55.97,342.62 57.30,342.10 59.00,341.80 C60.70,341.50 62.83,340.90 64.50,340.90 C66.17,340.90 67.47,341.50 69.00,341.80 C70.53,342.10 72.20,342.70 73.70,342.70 C75.20,342.70 76.45,342.10 78.00,341.80 C79.55,341.50 81.50,340.87 83.00,340.90 C84.50,340.93 85.67,341.43 87.00,342.00 C88.33,342.57 89.75,343.55 91.00,344.30 C92.25,345.05 93.50,345.63 94.50,346.50 C95.50,347.37 96.25,348.28 97.00,349.50 C97.75,350.72 98.40,352.05 99.00,353.80 C99.60,355.55 100.10,357.97 100.60,360.00 C101.10,362.03 101.55,364.08 102.00,366.00 C102.45,367.92 102.80,369.58 103.30,371.50 C103.80,373.42 104.50,375.83 105.00,377.50 C105.50,379.17 105.85,380.17 106.30,381.50 C106.75,382.83 107.13,383.58 107.70,385.50 C108.27,387.42 109.07,390.67 109.70,393.00 C110.33,395.33 111.00,397.75 111.50,399.50 C112.00,401.25 112.30,402.43 112.70,403.50 C113.10,404.57 113.50,405.42 113.90,405.90 C114.30,406.38 114.70,406.55 115.10,406.40 C115.49,406.25 115.88,405.77 116.27,405.00 C116.66,404.23 116.80,403.60 117.44,401.80 C118.08,400.00 119.28,396.67 120.14,394.20 C121.00,391.73 121.78,389.33 122.58,387.00 C123.38,384.67 124.09,382.53 124.94,380.20 C125.79,377.87 126.81,375.35 127.70,373.00 C128.59,370.65 129.50,368.15 130.30,366.10 C131.10,364.05 131.79,362.33 132.50,360.70 C133.21,359.07 133.80,357.48 134.54,356.30 C135.28,355.12 136.18,354.32 136.92,353.60 C137.66,352.88 138.09,352.50 138.98,352.00 C139.87,351.50 141.08,351.00 142.25,350.60 C143.42,350.20 144.71,349.95 146.00,349.60 C147.29,349.25 148.58,348.90 150.00,348.50 C151.42,348.10 153.03,347.52 154.50,347.20 C155.97,346.88 157.38,346.60 158.80,346.60 C160.22,346.60 161.52,347.00 163.00,347.20 C164.48,347.40 166.20,347.80 167.70,347.80 C169.20,347.80 170.52,347.32 172.00,347.20 C173.48,347.08 175.10,346.92 176.60,347.10 C178.10,347.28 179.53,347.88 181.00,348.30 C182.47,348.72 183.90,349.33 185.40,349.60 C186.90,349.87 188.52,349.82 190.00,349.90 C191.48,349.98 192.80,349.83 194.30,350.10 C195.80,350.37 197.52,351.00 199.00,351.50 C200.48,352.00 201.70,352.77 203.20,353.10 C204.70,353.43 206.52,353.40 208.00,353.50 C209.48,353.60 210.60,353.37 212.10,353.70 C213.60,354.03 215.52,354.92 217.00,355.50 C218.48,356.08 219.50,356.95 221.00,357.20 C222.50,357.45 224.52,357.00 226.00,357.00 C227.48,357.00 228.73,357.00 229.90,357.20 C231.07,357.40 232.12,357.90 233.00,358.20 C233.88,358.50 234.37,359.03 235.20,359.00 C236.03,358.97 237.09,358.73 238.00,358.00 C238.91,357.27 239.78,355.93 240.69,354.60 C241.60,353.27 242.63,351.85 243.45,350.00 C244.27,348.15 244.89,345.92 245.62,343.50 C246.36,341.08 247.15,338.17 247.88,335.50 C248.61,332.83 249.30,330.17 250.03,327.50 C250.77,324.83 251.55,322.25 252.29,319.50 C253.03,316.75 253.73,313.92 254.47,311.00 C255.20,308.08 255.97,305.00 256.72,302.00 C257.47,299.00 258.22,295.92 258.97,293.00 C259.73,290.08 260.47,287.25 261.23,284.50 C261.98,281.75 262.82,278.83 263.50,276.50 C264.18,274.17 264.78,272.05 265.30,270.50 C265.82,268.95 266.21,267.95 266.65,267.20 C267.08,266.45 267.38,265.90 267.91,266.00 C268.43,266.10 269.13,266.85 269.80,267.80 C270.47,268.75 271.23,269.83 271.90,271.70 C272.57,273.57 273.15,276.42 273.80,279.00 C274.45,281.58 275.15,284.20 275.80,287.20 C276.45,290.20 277.05,293.75 277.70,297.00 C278.35,300.25 279.05,303.57 279.70,306.70 C280.35,309.83 280.95,312.88 281.60,315.80 C282.25,318.72 282.95,321.72 283.60,324.20 C284.25,326.68 284.85,328.77 285.50,330.70 C286.15,332.63 286.70,334.35 287.50,335.80 C288.30,337.25 289.33,338.43 290.30,339.40 C291.27,340.37 292.18,341.10 293.30,341.60 C294.42,342.10 295.70,342.23 297.00,342.40 C298.30,342.57 298.93,342.62 301.10,342.60 C303.27,342.58 307.18,342.38 310.00,342.30 C312.82,342.22 315.50,342.15 318.00,342.10 C320.50,342.05 323.83,342.02 325.00,342.00" fill="none" stroke="#3ec43e" stroke-width="1.4" stroke-linejoin="round" />
<path d="M44.50,341.90 C45.25,341.97 47.37,342.17 49.00,342.30 C50.63,342.43 52.63,342.78 54.30,342.70 C55.97,342.62 57.30,342.10 59.00,341.80 C60.70,341.50 62.83,340.90 64.50,340.90 C66.17,340.90 67.47,341.50 69.00,341.80 C70.53,342.10 72.20,342.70 73.70,342.70 C75.20,342.70 76.45,342.10 78.00,341.80 C79.55,341.50 81.50,340.87 83.00,340.90 C84.50,340.93 85.67,341.43 87.00,342.00 C88.33,342.57 89.75,343.55 91.00,344.30 C92.25,345.05 93.50,345.63 94.50,346.50 C95.50,347.37 96.25,348.28 97.00,349.50 C97.75,350.72 98.40,352.05 99.00,353.80 C99.60,355.55 100.10,357.97 100.60,360.00 C101.10,362.03 101.55,364.08 102.00,366.00 C102.45,367.92 102.80,369.58 103.30,371.50 C103.80,373.42 104.50,375.83 105.00,377.50 C105.50,379.17 105.85,380.17 106.30,381.50 C106.75,382.83 107.13,383.58 107.70,385.50 C108.27,387.42 109.07,390.67 109.70,393.00 C110.33,395.33 111.00,397.75 111.50,399.50 C112.00,401.25 112.30,402.43 112.70,403.50 C113.10,404.57 113.50,405.42 113.90,405.90 C114.30,406.38 114.70,406.55 115.10,406.40 C115.50,406.25 115.88,405.77 116.30,405.00 C116.72,404.23 116.88,403.60 117.60,401.80 C118.32,400.00 119.67,396.67 120.60,394.20 C121.53,391.73 122.37,389.33 123.20,387.00 C124.03,384.67 124.73,382.53 125.60,380.20 C126.47,377.87 127.50,375.35 128.40,373.00 C129.30,370.65 130.20,368.15 131.00,366.10 C131.80,364.05 132.50,362.33 133.20,360.70 C133.90,359.07 134.48,357.48 135.20,356.30 C135.92,355.12 136.78,354.32 137.50,353.60 C138.22,352.88 138.67,352.50 139.50,352.00 C140.33,351.50 141.42,351.00 142.50,350.60 C143.58,350.20 144.75,349.95 146.00,349.60 C147.25,349.25 148.58,348.90 150.00,348.50 C151.42,348.10 153.03,347.52 154.50,347.20 C155.97,346.88 157.38,346.60 158.80,346.60 C160.22,346.60 161.52,347.00 163.00,347.20 C164.48,347.40 166.20,347.80 167.70,347.80 C169.20,347.80 170.52,347.32 172.00,347.20 C173.48,347.08 175.10,346.92 176.60,347.10 C178.10,347.28 179.53,347.88 181.00,348.30 C182.47,348.72 183.90,349.33 185.40,349.60 C186.90,349.87 188.52,349.82 190.00,349.90 C191.48,349.98 192.80,349.83 194.30,350.10 C195.80,350.37 197.52,351.00 199.00,351.50 C200.48,352.00 201.70,352.77 203.20,353.10 C204.70,353.43 206.52,353.40 208.00,353.50 C209.48,353.60 210.60,353.37 212.10,353.70 C213.60,354.03 215.52,354.92 217.00,355.50 C218.48,356.08 219.50,356.95 221.00,357.20 C222.50,357.45 224.52,357.00 226.00,357.00 C227.48,357.00 228.73,357.00 229.90,357.20 C231.07,357.40 232.12,357.90 233.00,358.20 C233.88,358.50 234.37,359.03 235.20,359.00 C236.03,358.97 237.10,358.73 238.00,358.00 C238.90,357.27 239.77,355.93 240.60,354.60 C241.43,353.27 242.27,351.85 243.00,350.00 C243.73,348.15 244.30,345.92 245.00,343.50 C245.70,341.08 246.48,338.17 247.20,335.50 C247.92,332.83 248.58,330.17 249.30,327.50 C250.02,324.83 250.77,322.25 251.50,319.50 C252.23,316.75 252.95,313.92 253.70,311.00 C254.45,308.08 255.23,305.00 256.00,302.00 C256.77,299.00 257.53,295.92 258.30,293.00 C259.07,290.08 259.82,287.25 260.60,284.50 C261.38,281.75 262.27,278.83 263.00,276.50 C263.73,274.17 264.42,272.05 265.00,270.50 C265.58,268.95 266.02,267.95 266.50,267.20 C266.98,266.45 267.35,265.90 267.90,266.00 C268.45,266.10 269.13,266.85 269.80,267.80 C270.47,268.75 271.23,269.83 271.90,271.70 C272.57,273.57 273.15,276.42 273.80,279.00 C274.45,281.58 275.15,284.20 275.80,287.20 C276.45,290.20 277.05,293.75 277.70,297.00 C278.35,300.25 279.05,303.57 279.70,306.70 C280.35,309.83 280.95,312.88 281.60,315.80 C282.25,318.72 282.95,321.72 283.60,324.20 C284.25,326.68 284.85,328.77 285.50,330.70 C286.15,332.63 286.70,334.35 287.50,335.80 C288.30,337.25 289.33,338.43 290.30,339.40 C291.27,340.37 292.18,341.10 293.30,341.60 C294.42,342.10 295.70,342.23 297.00,342.40 C298.30,342.57 298.93,342.62 301.10,342.60 C303.27,342.58 307.18,342.38 310.00,342.30 C312.82,342.22 315.50,342.15 318.00,342.10 C320.50,342.05 323.83,342.02 325.00,342.00" fill="none" stroke="#2a4aa8" stroke-width="1.5" stroke-linejoin="round" />
<rect x="226.30" y="366.40" width="97.70" height="66.20" fill="#fff" stroke="#6a6a6a" stroke-width="1.1"/>
<line x1="227.30" y1="379.64" x2="323.00" y2="379.64" stroke="#666" stroke-width="1.3" stroke-dasharray="4.4 7.35" stroke-dashoffset="1.2"/>
<line x1="227.30" y1="379.64" x2="323.00" y2="379.64" stroke="#aaa" stroke-width="1.1" stroke-dasharray="0 6.4 0.7 1.9 0.7 2.05" stroke-dashoffset="1.2"/>
<line x1="227.30" y1="392.88" x2="323.00" y2="392.88" stroke="#666" stroke-width="1.3" stroke-dasharray="4.4 7.35" stroke-dashoffset="1.2"/>
<line x1="227.30" y1="392.88" x2="323.00" y2="392.88" stroke="#aaa" stroke-width="1.1" stroke-dasharray="0 6.4 0.7 1.9 0.7 2.05" stroke-dashoffset="1.2"/>
<line x1="227.30" y1="406.12" x2="323.00" y2="406.12" stroke="#666" stroke-width="1.3" stroke-dasharray="4.4 7.35" stroke-dashoffset="1.2"/>
<line x1="227.30" y1="406.12" x2="323.00" y2="406.12" stroke="#aaa" stroke-width="1.1" stroke-dasharray="0 6.4 0.7 1.9 0.7 2.05" stroke-dashoffset="1.2"/>
<line x1="227.30" y1="419.36" x2="323.00" y2="419.36" stroke="#666" stroke-width="1.3" stroke-dasharray="4.4 7.35" stroke-dashoffset="1.2"/>
<line x1="227.30" y1="419.36" x2="323.00" y2="419.36" stroke="#aaa" stroke-width="1.1" stroke-dasharray="0 6.4 0.7 1.9 0.7 2.05" stroke-dashoffset="1.2"/>
<text transform="translate(224.00,368.90) scale(0.8,1)" font-family="Liberation Serif, serif" font-size="7.3" font-weight="bold" text-anchor="end" fill="#1a1a1a" stroke="#1a1a1a" stroke-width="0.15">20</text>
<text transform="translate(224.00,382.14) scale(0.8,1)" font-family="Liberation Serif, serif" font-size="7.3" font-weight="bold" text-anchor="end" fill="#1a1a1a" stroke="#1a1a1a" stroke-width="0.15">0</text>
<text transform="translate(224.00,395.38) scale(0.8,1)" font-family="Liberation Serif, serif" font-size="7.3" font-weight="bold" text-anchor="end" fill="#1a1a1a" stroke="#1a1a1a" stroke-width="0.15">-20</text>
<text transform="translate(224.00,408.62) scale(0.8,1)" font-family="Liberation Serif, serif" font-size="7.3" font-weight="bold" text-anchor="end" fill="#1a1a1a" stroke="#1a1a1a" stroke-width="0.15">-40</text>
<text transform="translate(224.00,421.86) scale(0.8,1)" font-family="Liberation Serif, serif" font-size="7.3" font-weight="bold" text-anchor="end" fill="#1a1a1a" stroke="#1a1a1a" stroke-width="0.15">-60</text>
<text transform="translate(224.00,435.10) scale(0.8,1)" font-family="Liberation Serif, serif" font-size="7.3" font-weight="bold" text-anchor="end" fill="#1a1a1a" stroke="#1a1a1a" stroke-width="0.15">-80</text>
<line x1="249.40" y1="366.40" x2="249.40" y2="432.60" stroke="#6a6a6a" stroke-width="1.0"/>
<line x1="303.60" y1="366.40" x2="303.60" y2="432.60" stroke="#6a6a6a" stroke-width="1.0"/>
<text transform="translate(211.50,398.70) rotate(-90)" font-family="Liberation Serif, serif" font-size="6.9" font-weight="bold" text-anchor="middle" fill="#111" stroke="#111" stroke-width="0.2" textLength="59.5" lengthAdjust="spacingAndGlyphs">Electric field (kV/mm)</text>
<path d="M226.40,375.30 C227.33,375.25 230.07,375.13 232.00,375.00 C233.93,374.87 236.17,374.57 238.00,374.50 C239.83,374.43 241.75,374.42 243.00,374.60 C244.25,374.78 244.75,375.03 245.50,375.60 C246.25,376.17 246.83,376.93 247.50,378.00 C248.17,379.07 248.83,380.25 249.50,382.00 C250.17,383.75 250.83,386.33 251.50,388.50 C252.17,390.67 252.75,393.00 253.50,395.00 C254.25,397.00 255.08,399.00 256.00,400.50 C256.92,402.00 257.83,403.02 259.00,404.00 C260.17,404.98 261.50,405.73 263.00,406.40 C264.50,407.07 266.33,407.47 268.00,408.00 C269.67,408.53 271.17,408.93 273.00,409.60 C274.83,410.27 277.00,411.02 279.00,412.00 C281.00,412.98 283.17,414.25 285.00,415.50 C286.83,416.75 288.58,418.25 290.00,419.50 C291.42,420.75 292.50,422.08 293.50,423.00 C294.50,423.92 295.25,424.92 296.00,425.00 C296.75,425.08 297.33,424.67 298.00,423.50 C298.67,422.33 299.33,420.58 300.00,418.00 C300.67,415.42 301.33,411.33 302.00,408.00 C302.67,404.67 303.33,400.67 304.00,398.00 C304.67,395.33 305.17,393.50 306.00,392.00 C306.83,390.50 307.83,389.65 309.00,389.00 C310.17,388.35 311.50,388.27 313.00,388.10 C314.50,387.93 316.25,388.02 318.00,388.00 C319.75,387.98 322.58,388.00 323.50,388.00" fill="none" stroke="#3a5fc0" stroke-width="1.3" stroke-linejoin="round" />
<path d="M44.20,247.00 H325.80 V436.80 H44.20 Z" fill="none" stroke="#505050" stroke-width="1.6"/>
<line x1="44.20" y1="436.80" x2="48.20" y2="436.80" stroke="#505050" stroke-width="1.2"/>
<line x1="44.20" y1="413.07" x2="48.20" y2="413.07" stroke="#505050" stroke-width="1.2"/>
<line x1="44.20" y1="389.35" x2="48.20" y2="389.35" stroke="#505050" stroke-width="1.2"/>
<line x1="44.20" y1="365.62" x2="48.20" y2="365.62" stroke="#505050" stroke-width="1.2"/>
<line x1="44.20" y1="341.90" x2="48.20" y2="341.90" stroke="#505050" stroke-width="1.2"/>
<line x1="44.20" y1="318.17" x2="48.20" y2="318.17" stroke="#505050" stroke-width="1.2"/>
<line x1="44.20" y1="294.45" x2="48.20" y2="294.45" stroke="#505050" stroke-width="1.2"/>
<line x1="44.20" y1="270.72" x2="48.20" y2="270.72" stroke="#505050" stroke-width="1.2"/>
<line x1="44.20" y1="247.00" x2="48.20" y2="247.00" stroke="#505050" stroke-width="1.2"/>
<line x1="44.20" y1="436.80" x2="44.20" y2="433.30" stroke="#505050" stroke-width="1.2"/>
<line x1="78.08" y1="436.80" x2="78.08" y2="434.30" stroke="#505050" stroke-width="1.2"/>
<line x1="111.95" y1="436.80" x2="111.95" y2="433.30" stroke="#505050" stroke-width="1.2"/>
<line x1="145.82" y1="436.80" x2="145.82" y2="434.30" stroke="#505050" stroke-width="1.2"/>
<line x1="179.70" y1="436.80" x2="179.70" y2="433.30" stroke="#505050" stroke-width="1.2"/>
<line x1="213.57" y1="436.80" x2="213.57" y2="434.30" stroke="#505050" stroke-width="1.2"/>
<line x1="247.45" y1="436.80" x2="247.45" y2="433.30" stroke="#505050" stroke-width="1.2"/>
<line x1="281.32" y1="436.80" x2="281.32" y2="434.30" stroke="#505050" stroke-width="1.2"/>
<line x1="315.20" y1="436.80" x2="315.20" y2="433.30" stroke="#505050" stroke-width="1.2"/>
<text x="61.30" y="261.40" font-family="Liberation Sans, sans-serif" font-size="10.5" font-weight="bold" text-anchor="start" fill="#111" stroke="#111" stroke-width="0.3">Cathode</text>
<text x="119.80" y="263.60" font-family="Liberation Sans, sans-serif" font-size="10.5" font-weight="bold" text-anchor="start" fill="#111" stroke="#111" stroke-width="0.3">0.01 wt% LDPE NCs</text>
<text x="285.00" y="261.30" font-family="Liberation Sans, sans-serif" font-size="10.5" font-weight="bold" text-anchor="start" fill="#111" stroke="#111" stroke-width="0.3">Anode</text>
<line x1="120.40" y1="275.30" x2="145.20" y2="275.30" stroke="#b0b0b0" stroke-width="1.2" stroke-dasharray="1.1 0.8"/>
<text x="152.30" y="278.60" font-family="Liberation Sans, sans-serif" font-size="10.4" font-weight="bold" text-anchor="start" fill="#111" stroke="#111" stroke-width="0.3">10 s</text>
<line x1="120.40" y1="286.70" x2="145.20" y2="286.70" stroke="#333" stroke-width="1.4" stroke-dasharray="7.2 3.5"/>
<text x="152.30" y="290.00" font-family="Liberation Sans, sans-serif" font-size="10.4" font-weight="bold" text-anchor="start" fill="#111" stroke="#111" stroke-width="0.3">30 s</text>
<line x1="120.40" y1="298.80" x2="145.20" y2="298.80" stroke="#c86a6a" stroke-width="1.4"/>
<text x="152.30" y="302.10" font-family="Liberation Sans, sans-serif" font-size="10.4" font-weight="bold" text-anchor="start" fill="#111" stroke="#111" stroke-width="0.3">300 s</text>
<line x1="120.40" y1="310.80" x2="145.20" y2="310.80" stroke="#5ccc5c" stroke-width="1.4"/>
<text x="152.30" y="314.10" font-family="Liberation Sans, sans-serif" font-size="10.4" font-weight="bold" text-anchor="start" fill="#111" stroke="#111" stroke-width="0.3">900 s</text>
<line x1="120.40" y1="322.60" x2="145.20" y2="322.60" stroke="#3a5ab8" stroke-width="1.5"/>
<text x="152.30" y="325.90" font-family="Liberation Sans, sans-serif" font-size="10.4" font-weight="bold" text-anchor="start" fill="#111" stroke="#111" stroke-width="0.3">1800 s</text>
<line x1="133" y1="346.6" x2="146.3" y2="363.4" stroke="#111" stroke-width="1" marker-end="url(#ah)"/>
<text x="353.40" y="251.30" font-family="Liberation Sans, sans-serif" font-size="17.5" font-weight="bold" text-anchor="start" fill="#111" stroke="#111" stroke-width="0.1">d</text>
<text x="384.60" y="440.40" font-family="Liberation Sans, sans-serif" font-size="10" font-weight="bold" text-anchor="end" fill="#111" stroke="#111" stroke-width="0.3">-40</text>
<text x="384.60" y="416.62" font-family="Liberation Sans, sans-serif" font-size="10" font-weight="bold" text-anchor="end" fill="#111" stroke="#111" stroke-width="0.3">-30</text>
<text x="384.60" y="392.85" font-family="Liberation Sans, sans-serif" font-size="10" font-weight="bold" text-anchor="end" fill="#111" stroke="#111" stroke-width="0.3">-20</text>
<text x="384.60" y="369.08" font-family="Liberation Sans, sans-serif" font-size="10" font-weight="bold" text-anchor="end" fill="#111" stroke="#111" stroke-width="0.3">-10</text>
<text x="384.60" y="345.30" font-family="Liberation Sans, sans-serif" font-size="10" font-weight="bold" text-anchor="end" fill="#111" stroke="#111" stroke-width="0.3">0</text>
<text x="384.60" y="321.52" font-family="Liberation Sans, sans-serif" font-size="10" font-weight="bold" text-anchor="end" fill="#111" stroke="#111" stroke-width="0.3">10</text>
<text x="384.60" y="297.75" font-family="Liberation Sans, sans-serif" font-size="10" font-weight="bold" text-anchor="end" fill="#111" stroke="#111" stroke-width="0.3">20</text>
<text x="384.60" y="273.98" font-family="Liberation Sans, sans-serif" font-size="10" font-weight="bold" text-anchor="end" fill="#111" stroke="#111" stroke-width="0.3">30</text>
<text x="384.60" y="250.20" font-family="Liberation Sans, sans-serif" font-size="10" font-weight="bold" text-anchor="end" fill="#111" stroke="#111" stroke-width="0.3">40</text>
<text x="391.00" y="448.60" font-family="Liberation Sans, sans-serif" font-size="10.3" font-weight="bold" text-anchor="middle" fill="#111" stroke="#111" stroke-width="0.3">0</text>
<text x="458.90" y="448.60" font-family="Liberation Sans, sans-serif" font-size="10.3" font-weight="bold" text-anchor="middle" fill="#111" stroke="#111" stroke-width="0.3">100</text>
<text x="526.80" y="448.60" font-family="Liberation Sans, sans-serif" font-size="10.3" font-weight="bold" text-anchor="middle" fill="#111" stroke="#111" stroke-width="0.3">200</text>
<text x="594.70" y="448.60" font-family="Liberation Sans, sans-serif" font-size="10.3" font-weight="bold" text-anchor="middle" fill="#111" stroke="#111" stroke-width="0.3">300</text>
<text x="662.60" y="448.60" font-family="Liberation Sans, sans-serif" font-size="10.3" font-weight="bold" text-anchor="middle" fill="#111" stroke="#111" stroke-width="0.3">400</text>
<text x="528.00" y="457.70" font-family="Liberation Sans, sans-serif" font-size="10.5" font-weight="bold" text-anchor="middle" fill="#111" stroke="#111" stroke-width="0.3">Thickness (&#956;m)</text>
<text transform="translate(360.60,341.20) rotate(-90)" font-family="Liberation Sans, sans-serif" font-size="10.6" font-weight="bold" text-anchor="middle" fill="#111" stroke="#111" stroke-width="0.3">Charge density (C/m<tspan font-size="7" dy="-4.8">3</tspan><tspan dy="4.8">)</tspan></text>
<line x1="455.10" y1="246.60" x2="455.10" y2="436.80" stroke="#8a8a8a" stroke-width="1.25"/>
<line x1="614.60" y1="246.60" x2="614.60" y2="366.40" stroke="#8a8a8a" stroke-width="1.2"/>
<line x1="390.20" y1="342.00" x2="669.30" y2="342.00" stroke="#8a8a8a" stroke-width="1.1" stroke-dasharray="4 2 0.8 1.95 0.8 2.2" stroke-dashoffset="2.10"/>
<path d="M389.50,342.30 C390.08,342.52 391.72,343.25 393.00,343.60 C394.28,343.95 395.87,344.42 397.20,344.40 C398.53,344.38 399.63,343.85 401.00,343.50 C402.37,343.15 403.98,342.35 405.40,342.30 C406.82,342.25 408.13,342.85 409.50,343.20 C410.87,343.55 412.10,344.43 413.60,344.40 C415.10,344.37 416.78,343.42 418.50,343.00 C420.22,342.58 422.32,341.90 423.90,341.90 C425.48,341.90 426.63,342.52 428.00,343.00 C429.37,343.48 430.85,344.10 432.10,344.80 C433.35,345.50 434.48,346.25 435.50,347.20 C436.52,348.15 437.37,349.20 438.20,350.50 C439.03,351.80 439.82,353.28 440.50,355.00 C441.18,356.72 441.65,358.30 442.30,360.80 C442.95,363.30 443.72,366.58 444.40,370.00 C445.08,373.42 445.72,377.80 446.40,381.30 C447.08,384.80 447.82,387.93 448.50,391.00 C449.18,394.07 449.88,397.20 450.50,399.70 C451.12,402.20 451.68,404.12 452.20,406.00 C452.72,407.88 453.03,409.65 453.60,411.00 C454.17,412.35 455.01,414.02 455.60,414.10 C456.19,414.18 456.60,412.87 457.12,411.50 C457.65,410.13 458.18,408.40 458.77,405.90 C459.37,403.40 460.04,399.73 460.69,396.50 C461.33,393.27 462.02,389.75 462.66,386.50 C463.30,383.25 463.89,380.07 464.53,377.00 C465.17,373.93 465.77,370.82 466.50,368.10 C467.23,365.38 468.07,362.80 468.88,360.66 C469.70,358.52 470.49,356.74 471.38,355.25 C472.26,353.76 472.94,352.52 474.17,351.70 C475.39,350.88 477.16,350.63 478.72,350.35 C480.27,350.06 481.87,349.80 483.50,350.01 C485.13,350.22 486.90,351.13 488.50,351.61 C490.10,352.09 491.52,352.80 493.10,352.90 C494.68,353.00 496.37,352.45 498.00,352.20 C499.63,351.95 501.23,351.30 502.90,351.40 C504.57,351.50 506.37,352.35 508.00,352.80 C509.63,353.25 511.20,353.93 512.70,354.10 C514.20,354.27 515.52,353.92 517.00,353.80 C518.48,353.68 520.10,353.23 521.60,353.40 C523.10,353.57 524.53,354.30 526.00,354.80 C527.47,355.30 528.90,356.33 530.40,356.40 C531.90,356.47 533.52,355.58 535.00,355.20 C536.48,354.82 537.80,354.10 539.30,354.10 C540.80,354.10 542.52,354.82 544.00,355.20 C545.48,355.58 546.62,355.98 548.20,356.40 C549.78,356.82 551.72,357.25 553.50,357.70 C555.28,358.15 557.23,358.60 558.90,359.10 C560.57,359.60 562.02,360.17 563.50,360.69 C564.98,361.21 566.38,361.87 567.80,362.22 C569.22,362.56 570.52,362.62 572.00,362.74 C573.48,362.86 575.27,362.87 576.70,362.92 C578.13,362.97 579.29,363.11 580.61,363.03 C581.93,362.95 583.55,362.82 584.62,362.46 C585.70,362.10 586.37,361.49 587.06,360.86 C587.74,360.23 588.10,359.72 588.75,358.66 C589.41,357.60 590.18,356.39 590.98,354.53 C591.79,352.66 592.73,349.85 593.55,347.47 C594.38,345.08 595.12,343.14 595.92,340.20 C596.72,337.26 597.58,333.32 598.35,329.80 C599.13,326.28 599.85,322.73 600.58,319.10 C601.32,315.47 602.07,311.60 602.77,308.00 C603.46,304.40 604.08,300.92 604.76,297.50 C605.44,294.08 606.19,290.73 606.85,287.50 C607.51,284.27 608.10,281.10 608.73,278.10 C609.35,275.10 609.99,271.83 610.58,269.50 C611.16,267.17 611.75,265.35 612.25,264.12 C612.75,262.90 613.16,262.61 613.58,262.12 C614.01,261.64 614.36,261.27 614.80,261.20 C615.24,261.13 615.70,260.96 616.24,261.70 C616.78,262.44 617.39,263.77 618.02,265.65 C618.65,267.53 619.32,270.21 620.00,273.00 C620.68,275.79 621.38,278.98 622.10,282.40 C622.82,285.82 623.58,289.90 624.30,293.50 C625.02,297.10 625.70,300.58 626.40,304.00 C627.10,307.42 627.78,310.77 628.50,314.00 C629.22,317.23 629.90,320.53 630.70,323.40 C631.50,326.27 632.40,328.87 633.30,331.20 C634.20,333.53 635.15,335.88 636.10,337.40 C637.05,338.92 637.92,339.58 639.00,340.30 C640.08,341.02 640.77,341.37 642.60,341.70 C644.43,342.03 647.48,342.18 650.00,342.30 C652.52,342.42 655.53,342.45 657.70,342.40 C659.87,342.35 660.95,342.12 663.00,342.00 C665.05,341.88 668.83,341.75 670.00,341.70" fill="none" stroke="#111" stroke-width="1.3" stroke-dasharray="1.3 1.2" stroke-linejoin="round" />
<path d="M389.50,342.30 C390.08,342.52 391.72,343.25 393.00,343.60 C394.28,343.95 395.87,344.42 397.20,344.40 C398.53,344.38 399.63,343.85 401.00,343.50 C402.37,343.15 403.98,342.35 405.40,342.30 C406.82,342.25 408.13,342.85 409.50,343.20 C410.87,343.55 412.10,344.43 413.60,344.40 C415.10,344.37 416.78,343.42 418.50,343.00 C420.22,342.58 422.32,341.90 423.90,341.90 C425.48,341.90 426.63,342.52 428.00,343.00 C429.37,343.48 430.85,344.10 432.10,344.80 C433.35,345.50 434.48,346.25 435.50,347.20 C436.52,348.15 437.37,349.20 438.20,350.50 C439.03,351.80 439.82,353.28 440.50,355.00 C441.18,356.72 441.65,358.30 442.30,360.80 C442.95,363.30 443.72,366.58 444.40,370.00 C445.08,373.42 445.72,377.80 446.40,381.30 C447.08,384.80 447.82,387.93 448.50,391.00 C449.18,394.07 449.88,397.20 450.50,399.70 C451.12,402.20 451.68,404.12 452.20,406.00 C452.72,407.88 453.03,409.65 453.60,411.00 C454.17,412.35 454.95,414.02 455.60,414.10 C456.25,414.18 456.82,412.87 457.50,411.50 C458.18,410.13 458.98,408.40 459.70,405.90 C460.42,403.40 461.10,399.73 461.80,396.50 C462.50,393.27 463.22,389.75 463.90,386.50 C464.58,383.25 465.22,380.00 465.90,377.00 C466.58,374.00 467.28,371.09 468.00,368.50 C468.72,365.91 469.45,363.55 470.20,361.45 C470.95,359.35 471.70,357.46 472.50,355.88 C473.30,354.29 473.93,352.84 475.00,351.95 C476.07,351.06 477.48,350.77 478.90,350.52 C480.32,350.26 481.90,350.12 483.50,350.42 C485.10,350.72 486.90,351.77 488.50,352.32 C490.10,352.87 491.52,353.59 493.10,353.70 C494.68,353.81 496.37,353.25 498.00,353.00 C499.63,352.75 501.23,352.10 502.90,352.20 C504.57,352.30 506.37,353.15 508.00,353.60 C509.63,354.05 511.20,354.73 512.70,354.90 C514.20,355.07 515.52,354.72 517.00,354.60 C518.48,354.48 520.10,354.03 521.60,354.20 C523.10,354.37 524.53,355.10 526.00,355.60 C527.47,356.10 528.90,357.13 530.40,357.20 C531.90,357.27 533.52,356.38 535.00,356.00 C536.48,355.62 537.80,354.90 539.30,354.90 C540.80,354.90 542.52,355.62 544.00,356.00 C545.48,356.38 546.62,356.78 548.20,357.20 C549.78,357.62 551.72,358.05 553.50,358.50 C555.28,358.95 557.23,359.43 558.90,359.90 C560.57,360.37 562.02,360.85 563.50,361.30 C564.98,361.75 566.38,362.33 567.80,362.60 C569.22,362.87 570.52,362.83 572.00,362.90 C573.48,362.97 575.26,362.95 576.70,363.03 C578.14,363.10 579.28,363.39 580.62,363.38 C581.97,363.36 583.65,363.30 584.75,362.96 C585.85,362.62 586.55,361.99 587.25,361.36 C587.95,360.73 588.30,360.22 588.95,359.16 C589.61,358.10 590.38,356.94 591.18,355.03 C591.99,353.12 592.93,350.17 593.75,347.70 C594.58,345.23 595.32,343.18 596.12,340.20 C596.92,337.22 597.78,333.32 598.55,329.80 C599.33,326.28 600.05,322.73 600.78,319.10 C601.52,315.47 602.27,311.60 602.97,308.00 C603.66,304.40 604.28,300.92 604.96,297.50 C605.64,294.08 606.38,290.73 607.05,287.50 C607.71,284.27 608.32,281.10 608.95,278.10 C609.58,275.10 610.25,271.79 610.85,269.50 C611.45,267.21 612.03,265.50 612.52,264.35 C613.01,263.20 613.39,263.07 613.80,262.62 C614.21,262.18 614.54,261.85 614.97,261.70 C615.39,261.55 615.83,261.09 616.35,261.75 C616.86,262.41 617.47,263.78 618.07,265.65 C618.68,267.53 619.33,270.21 620.00,273.00 C620.67,275.79 621.38,278.98 622.10,282.40 C622.82,285.82 623.58,289.90 624.30,293.50 C625.02,297.10 625.70,300.58 626.40,304.00 C627.10,307.42 627.78,310.77 628.50,314.00 C629.22,317.23 629.90,320.53 630.70,323.40 C631.50,326.27 632.40,328.87 633.30,331.20 C634.20,333.53 635.15,335.88 636.10,337.40 C637.05,338.92 637.92,339.58 639.00,340.30 C640.08,341.02 640.77,341.37 642.60,341.70 C644.43,342.03 647.48,342.18 650.00,342.30 C652.52,342.42 655.53,342.45 657.70,342.40 C659.87,342.35 660.95,342.12 663.00,342.00 C665.05,341.88 668.83,341.75 670.00,341.70" fill="none" stroke="#222" stroke-width="1.3" stroke-dasharray="5 3" stroke-linejoin="round" />
<path d="M389.50,342.30 C390.08,342.52 391.72,343.25 393.00,343.60 C394.28,343.95 395.87,344.42 397.20,344.40 C398.53,344.38 399.63,343.85 401.00,343.50 C402.37,343.15 403.98,342.35 405.40,342.30 C406.82,342.25 408.13,342.85 409.50,343.20 C410.87,343.55 412.10,344.43 413.60,344.40 C415.10,344.37 416.78,343.42 418.50,343.00 C420.22,342.58 422.32,341.90 423.90,341.90 C425.48,341.90 426.63,342.52 428.00,343.00 C429.37,343.48 430.85,344.10 432.10,344.80 C433.35,345.50 434.48,346.25 435.50,347.20 C436.52,348.15 437.37,349.20 438.20,350.50 C439.03,351.80 439.82,353.28 440.50,355.00 C441.18,356.72 441.65,358.30 442.30,360.80 C442.95,363.30 443.72,366.58 444.40,370.00 C445.08,373.42 445.72,377.80 446.40,381.30 C447.08,384.80 447.82,387.93 448.50,391.00 C449.18,394.07 449.88,397.20 450.50,399.70 C451.12,402.20 451.68,404.12 452.20,406.00 C452.72,407.88 453.03,409.65 453.60,411.00 C454.17,412.35 454.95,414.02 455.60,414.10 C456.25,414.18 456.82,412.87 457.50,411.50 C458.18,410.13 458.98,408.40 459.70,405.90 C460.42,403.40 461.10,399.73 461.80,396.50 C462.50,393.27 463.22,389.75 463.90,386.50 C464.58,383.25 465.22,380.00 465.90,377.00 C466.58,374.00 467.28,371.08 468.00,368.50 C468.72,365.92 469.45,363.50 470.20,361.50 C470.95,359.50 471.70,357.88 472.50,356.50 C473.30,355.12 473.93,353.98 475.00,353.20 C476.07,352.42 477.48,352.13 478.90,351.80 C480.32,351.47 481.90,351.08 483.50,351.20 C485.10,351.32 486.90,352.08 488.50,352.50 C490.10,352.92 491.52,353.62 493.10,353.70 C494.68,353.78 496.37,353.25 498.00,353.00 C499.63,352.75 501.23,352.10 502.90,352.20 C504.57,352.30 506.37,353.15 508.00,353.60 C509.63,354.05 511.20,354.73 512.70,354.90 C514.20,355.07 515.52,354.72 517.00,354.60 C518.48,354.48 520.10,354.03 521.60,354.20 C523.10,354.37 524.53,355.10 526.00,355.60 C527.47,356.10 528.90,357.13 530.40,357.20 C531.90,357.27 533.52,356.38 535.00,356.00 C536.48,355.62 537.80,354.90 539.30,354.90 C540.80,354.90 542.52,355.62 544.00,356.00 C545.48,356.38 546.62,356.78 548.20,357.20 C549.78,357.62 551.72,358.05 553.50,358.50 C555.28,358.95 557.23,359.43 558.90,359.90 C560.57,360.37 562.02,360.85 563.50,361.30 C564.98,361.75 566.38,362.33 567.80,362.60 C569.22,362.87 570.52,362.85 572.00,362.90 C573.48,362.95 575.27,362.90 576.70,362.92 C578.13,362.94 579.30,363.11 580.57,363.03 C581.83,362.95 583.31,362.82 584.31,362.46 C585.31,362.10 585.93,361.49 586.57,360.86 C587.22,360.23 587.56,359.72 588.19,358.66 C588.81,357.60 589.56,356.39 590.32,354.53 C591.08,352.66 591.98,349.85 592.77,347.47 C593.57,345.08 594.31,343.14 595.10,340.20 C595.89,337.26 596.73,333.32 597.50,329.80 C598.27,326.28 598.97,322.73 599.70,319.10 C600.43,315.47 601.17,311.60 601.87,308.00 C602.56,304.40 603.18,300.92 603.86,297.50 C604.54,294.08 605.29,290.73 605.95,287.50 C606.62,284.27 607.24,281.10 607.85,278.10 C608.47,275.10 609.08,272.04 609.64,269.50 C610.20,266.96 610.75,264.59 611.24,262.85 C611.73,261.11 612.12,259.91 612.58,259.08 C613.04,258.25 613.46,257.64 614.00,257.87 C614.54,258.10 615.17,259.26 615.80,260.47 C616.43,261.67 617.10,263.01 617.80,265.10 C618.50,267.19 619.28,270.12 620.00,273.00 C620.72,275.88 621.38,278.98 622.10,282.40 C622.82,285.82 623.58,289.90 624.30,293.50 C625.02,297.10 625.70,300.58 626.40,304.00 C627.10,307.42 627.78,310.77 628.50,314.00 C629.22,317.23 629.90,320.53 630.70,323.40 C631.50,326.27 632.40,328.87 633.30,331.20 C634.20,333.53 635.15,335.88 636.10,337.40 C637.05,338.92 637.92,339.58 639.00,340.30 C640.08,341.02 640.77,341.37 642.60,341.70 C644.43,342.03 647.48,342.18 650.00,342.30 C652.52,342.42 655.53,342.45 657.70,342.40 C659.87,342.35 660.95,342.12 663.00,342.00 C665.05,341.88 668.83,341.75 670.00,341.70" fill="none" stroke="#d9343c" stroke-width="1.4" stroke-linejoin="round" />
<path d="M389.50,342.30 C390.08,342.52 391.72,343.25 393.00,343.60 C394.28,343.95 395.87,344.42 397.20,344.40 C398.53,344.38 399.63,343.85 401.00,343.50 C402.37,343.15 403.98,342.35 405.40,342.30 C406.82,342.25 408.13,342.85 409.50,343.20 C410.87,343.55 412.10,344.43 413.60,344.40 C415.10,344.37 416.78,343.42 418.50,343.00 C420.22,342.58 422.32,341.90 423.90,341.90 C425.48,341.90 426.63,342.52 428.00,343.00 C429.37,343.48 430.85,344.10 432.10,344.80 C433.35,345.50 434.48,346.25 435.50,347.20 C436.52,348.15 437.37,349.20 438.20,350.50 C439.03,351.80 439.82,353.28 440.50,355.00 C441.18,356.72 441.65,358.30 442.30,360.80 C442.95,363.30 443.72,366.58 444.40,370.00 C445.08,373.42 445.72,377.80 446.40,381.30 C447.08,384.80 447.82,387.93 448.50,391.00 C449.18,394.07 449.88,397.20 450.50,399.70 C451.12,402.20 451.68,404.12 452.20,406.00 C452.72,407.88 453.03,409.65 453.60,411.00 C454.17,412.35 454.95,414.02 455.60,414.10 C456.25,414.18 456.82,412.87 457.50,411.50 C458.18,410.13 458.98,408.40 459.70,405.90 C460.42,403.40 461.10,399.73 461.80,396.50 C462.50,393.27 463.22,389.75 463.90,386.50 C464.58,383.25 465.22,380.00 465.90,377.00 C466.58,374.00 467.28,371.08 468.00,368.50 C468.72,365.92 469.45,363.50 470.20,361.50 C470.95,359.50 471.70,357.88 472.50,356.50 C473.30,355.12 473.93,353.98 475.00,353.20 C476.07,352.42 477.48,352.13 478.90,351.80 C480.32,351.47 481.90,351.08 483.50,351.20 C485.10,351.32 486.90,352.08 488.50,352.50 C490.10,352.92 491.52,353.62 493.10,353.70 C494.68,353.78 496.37,353.25 498.00,353.00 C499.63,352.75 501.23,352.10 502.90,352.20 C504.57,352.30 506.37,353.15 508.00,353.60 C509.63,354.05 511.20,354.73 512.70,354.90 C514.20,355.07 515.52,354.72 517.00,354.60 C518.48,354.48 520.10,354.03 521.60,354.20 C523.10,354.37 524.53,355.10 526.00,355.60 C527.47,356.10 528.90,357.13 530.40,357.20 C531.90,357.27 533.52,356.38 535.00,356.00 C536.48,355.62 537.80,354.90 539.30,354.90 C540.80,354.90 542.52,355.62 544.00,356.00 C545.48,356.38 546.62,356.78 548.20,357.20 C549.78,357.62 551.72,358.05 553.50,358.50 C555.28,358.95 557.23,359.43 558.90,359.90 C560.57,360.37 562.02,360.85 563.50,361.30 C564.98,361.75 566.38,362.33 567.80,362.60 C569.22,362.87 570.52,362.86 572.00,362.90 C573.48,362.94 575.28,362.85 576.70,362.81 C578.12,362.78 579.31,362.84 580.54,362.69 C581.78,362.53 583.16,362.31 584.12,361.88 C585.07,361.45 585.66,360.77 586.28,360.08 C586.90,359.39 587.24,358.77 587.84,357.73 C588.45,356.69 589.17,355.60 589.91,353.85 C590.65,352.10 591.51,349.51 592.29,347.23 C593.06,344.96 593.80,343.11 594.58,340.20 C595.35,337.29 596.19,333.32 596.95,329.80 C597.70,326.28 598.40,322.73 599.12,319.10 C599.84,315.47 600.58,311.60 601.28,308.00 C601.98,304.40 602.63,300.92 603.33,297.50 C604.03,294.08 604.79,290.73 605.48,287.50 C606.16,284.27 606.78,281.10 607.42,278.10 C608.07,275.10 608.71,272.02 609.32,269.50 C609.93,266.98 610.53,264.67 611.07,263.00 C611.60,261.33 612.05,260.30 612.54,259.50 C613.03,258.70 613.46,258.03 614.00,258.20 C614.54,258.37 615.17,259.35 615.80,260.50 C616.43,261.65 617.10,263.02 617.80,265.10 C618.50,267.18 619.28,270.12 620.00,273.00 C620.72,275.88 621.38,278.98 622.10,282.40 C622.82,285.82 623.58,289.90 624.30,293.50 C625.02,297.10 625.70,300.58 626.40,304.00 C627.10,307.42 627.78,310.77 628.50,314.00 C629.22,317.23 629.90,320.53 630.70,323.40 C631.50,326.27 632.40,328.87 633.30,331.20 C634.20,333.53 635.15,335.88 636.10,337.40 C637.05,338.92 637.92,339.58 639.00,340.30 C640.08,341.02 640.77,341.37 642.60,341.70 C644.43,342.03 647.48,342.18 650.00,342.30 C652.52,342.42 655.53,342.45 657.70,342.40 C659.87,342.35 660.95,342.12 663.00,342.00 C665.05,341.88 668.83,341.75 670.00,341.70" fill="none" stroke="#3ec43e" stroke-width="1.4" stroke-linejoin="round" />
<path d="M389.50,342.30 C390.08,342.52 391.72,343.25 393.00,343.60 C394.28,343.95 395.87,344.42 397.20,344.40 C398.53,344.38 399.63,343.85 401.00,343.50 C402.37,343.15 403.98,342.35 405.40,342.30 C406.82,342.25 408.13,342.85 409.50,343.20 C410.87,343.55 412.10,344.43 413.60,344.40 C415.10,344.37 416.78,343.42 418.50,343.00 C420.22,342.58 422.32,341.90 423.90,341.90 C425.48,341.90 426.63,342.52 428.00,343.00 C429.37,343.48 430.85,344.10 432.10,344.80 C433.35,345.50 434.48,346.25 435.50,347.20 C436.52,348.15 437.37,349.20 438.20,350.50 C439.03,351.80 439.82,353.28 440.50,355.00 C441.18,356.72 441.65,358.30 442.30,360.80 C442.95,363.30 443.72,366.58 444.40,370.00 C445.08,373.42 445.72,377.80 446.40,381.30 C447.08,384.80 447.82,387.93 448.50,391.00 C449.18,394.07 449.88,397.20 450.50,399.70 C451.12,402.20 451.68,404.12 452.20,406.00 C452.72,407.88 453.03,409.65 453.60,411.00 C454.17,412.35 454.95,414.02 455.60,414.10 C456.25,414.18 456.82,412.87 457.50,411.50 C458.18,410.13 458.98,408.40 459.70,405.90 C460.42,403.40 461.10,399.73 461.80,396.50 C462.50,393.27 463.22,389.75 463.90,386.50 C464.58,383.25 465.22,380.00 465.90,377.00 C466.58,374.00 467.28,371.08 468.00,368.50 C468.72,365.92 469.45,363.50 470.20,361.50 C470.95,359.50 471.70,357.88 472.50,356.50 C473.30,355.12 473.93,353.98 475.00,353.20 C476.07,352.42 477.48,352.13 478.90,351.80 C480.32,351.47 481.90,351.08 483.50,351.20 C485.10,351.32 486.90,352.08 488.50,352.50 C490.10,352.92 491.52,353.62 493.10,353.70 C494.68,353.78 496.37,353.25 498.00,353.00 C499.63,352.75 501.23,352.10 502.90,352.20 C504.57,352.30 506.37,353.15 508.00,353.60 C509.63,354.05 511.20,354.73 512.70,354.90 C514.20,355.07 515.52,354.72 517.00,354.60 C518.48,354.48 520.10,354.03 521.60,354.20 C523.10,354.37 524.53,355.10 526.00,355.60 C527.47,356.10 528.90,357.13 530.40,357.20 C531.90,357.27 533.52,356.38 535.00,356.00 C536.48,355.62 537.80,354.90 539.30,354.90 C540.80,354.90 542.52,355.62 544.00,356.00 C545.48,356.38 546.62,356.78 548.20,357.20 C549.78,357.62 551.72,358.05 553.50,358.50 C555.28,358.95 557.23,359.43 558.90,359.90 C560.57,360.37 562.02,360.85 563.50,361.30 C564.98,361.75 566.38,362.33 567.80,362.60 C569.22,362.87 570.52,362.90 572.00,362.90 C573.48,362.90 575.28,362.75 576.70,362.60 C578.12,362.45 579.32,362.30 580.50,362.00 C581.68,361.70 582.92,361.33 583.80,360.80 C584.68,360.27 585.22,359.55 585.80,358.80 C586.38,358.05 586.72,357.27 587.30,356.30 C587.88,355.33 588.58,354.55 589.30,353.00 C590.02,351.45 590.83,349.13 591.60,347.00 C592.37,344.87 593.12,343.07 593.90,340.20 C594.68,337.33 595.53,333.32 596.30,329.80 C597.07,326.28 597.77,322.73 598.50,319.10 C599.23,315.47 599.98,311.60 600.70,308.00 C601.42,304.40 602.08,300.92 602.80,297.50 C603.52,294.08 604.30,290.73 605.00,287.50 C605.70,284.27 606.33,281.10 607.00,278.10 C607.67,275.10 608.35,272.02 609.00,269.50 C609.65,266.98 610.32,264.67 610.90,263.00 C611.48,261.33 611.98,260.30 612.50,259.50 C613.02,258.70 613.45,258.03 614.00,258.20 C614.55,258.37 615.17,259.35 615.80,260.50 C616.43,261.65 617.10,263.02 617.80,265.10 C618.50,267.18 619.28,270.12 620.00,273.00 C620.72,275.88 621.38,278.98 622.10,282.40 C622.82,285.82 623.58,289.90 624.30,293.50 C625.02,297.10 625.70,300.58 626.40,304.00 C627.10,307.42 627.78,310.77 628.50,314.00 C629.22,317.23 629.90,320.53 630.70,323.40 C631.50,326.27 632.40,328.87 633.30,331.20 C634.20,333.53 635.15,335.88 636.10,337.40 C637.05,338.92 637.92,339.58 639.00,340.30 C640.08,341.02 640.77,341.37 642.60,341.70 C644.43,342.03 647.48,342.18 650.00,342.30 C652.52,342.42 655.53,342.45 657.70,342.40 C659.87,342.35 660.95,342.12 663.00,342.00 C665.05,341.88 668.83,341.75 670.00,341.70" fill="none" stroke="#2a4aa8" stroke-width="1.5" stroke-linejoin="round" />
<rect x="570.70" y="366.40" width="97.90" height="66.20" fill="#fff" stroke="#6a6a6a" stroke-width="1.1"/>
<line x1="571.70" y1="379.64" x2="667.60" y2="379.64" stroke="#666" stroke-width="1.3" stroke-dasharray="4.4 7.35" stroke-dashoffset="1.2"/>
<line x1="571.70" y1="379.64" x2="667.60" y2="379.64" stroke="#aaa" stroke-width="1.1" stroke-dasharray="0 6.4 0.7 1.9 0.7 2.05" stroke-dashoffset="1.2"/>
<line x1="571.70" y1="392.88" x2="667.60" y2="392.88" stroke="#666" stroke-width="1.3" stroke-dasharray="4.4 7.35" stroke-dashoffset="1.2"/>
<line x1="571.70" y1="392.88" x2="667.60" y2="392.88" stroke="#aaa" stroke-width="1.1" stroke-dasharray="0 6.4 0.7 1.9 0.7 2.05" stroke-dashoffset="1.2"/>
<line x1="571.70" y1="406.12" x2="667.60" y2="406.12" stroke="#666" stroke-width="1.3" stroke-dasharray="4.4 7.35" stroke-dashoffset="1.2"/>
<line x1="571.70" y1="406.12" x2="667.60" y2="406.12" stroke="#aaa" stroke-width="1.1" stroke-dasharray="0 6.4 0.7 1.9 0.7 2.05" stroke-dashoffset="1.2"/>
<line x1="571.70" y1="419.36" x2="667.60" y2="419.36" stroke="#666" stroke-width="1.3" stroke-dasharray="4.4 7.35" stroke-dashoffset="1.2"/>
<line x1="571.70" y1="419.36" x2="667.60" y2="419.36" stroke="#aaa" stroke-width="1.1" stroke-dasharray="0 6.4 0.7 1.9 0.7 2.05" stroke-dashoffset="1.2"/>
<text transform="translate(569.20,368.90) scale(0.8,1)" font-family="Liberation Serif, serif" font-size="7.3" font-weight="bold" text-anchor="end" fill="#1a1a1a" stroke="#1a1a1a" stroke-width="0.15">20</text>
<text transform="translate(569.20,382.14) scale(0.8,1)" font-family="Liberation Serif, serif" font-size="7.3" font-weight="bold" text-anchor="end" fill="#1a1a1a" stroke="#1a1a1a" stroke-width="0.15">0</text>
<text transform="translate(569.20,395.38) scale(0.8,1)" font-family="Liberation Serif, serif" font-size="7.3" font-weight="bold" text-anchor="end" fill="#1a1a1a" stroke="#1a1a1a" stroke-width="0.15">-20</text>
<text transform="translate(569.20,408.62) scale(0.8,1)" font-family="Liberation Serif, serif" font-size="7.3" font-weight="bold" text-anchor="end" fill="#1a1a1a" stroke="#1a1a1a" stroke-width="0.15">-40</text>
<text transform="translate(569.20,421.86) scale(0.8,1)" font-family="Liberation Serif, serif" font-size="7.3" font-weight="bold" text-anchor="end" fill="#1a1a1a" stroke="#1a1a1a" stroke-width="0.15">-60</text>
<text transform="translate(569.20,435.10) scale(0.8,1)" font-family="Liberation Serif, serif" font-size="7.3" font-weight="bold" text-anchor="end" fill="#1a1a1a" stroke="#1a1a1a" stroke-width="0.15">-80</text>
<line x1="594.10" y1="366.40" x2="594.10" y2="432.60" stroke="#6a6a6a" stroke-width="1.0"/>
<line x1="648.60" y1="366.40" x2="648.60" y2="432.60" stroke="#6a6a6a" stroke-width="1.0"/>
<text transform="translate(555.90,398.70) rotate(-90)" font-family="Liberation Serif, serif" font-size="6.9" font-weight="bold" text-anchor="middle" fill="#111" stroke="#111" stroke-width="0.2" textLength="59.5" lengthAdjust="spacingAndGlyphs">Electric field (kV/mm)</text>
<path d="M571.00,369.70 C572.17,369.78 575.67,370.02 578.00,370.20 C580.33,370.38 583.33,370.50 585.00,370.80 C586.67,371.10 587.13,371.38 588.00,372.00 C588.87,372.62 589.50,373.58 590.20,374.50 C590.90,375.42 591.62,376.58 592.20,377.50 C592.78,378.42 593.23,378.50 593.70,380.00 C594.17,381.50 594.62,384.42 595.00,386.50 C595.38,388.58 595.60,390.98 596.00,392.50 C596.40,394.02 596.80,394.78 597.40,395.60 C598.00,396.42 598.50,396.70 599.60,397.40 C600.70,398.10 601.53,398.48 604.00,399.80 C606.47,401.12 611.40,403.35 614.40,405.30 C617.40,407.25 619.28,409.28 622.00,411.50 C624.72,413.72 628.53,416.77 630.70,418.60 C632.87,420.43 633.70,421.18 635.00,422.50 C636.30,423.82 637.43,425.42 638.50,426.50 C639.57,427.58 640.60,428.75 641.40,429.00 C642.20,429.25 642.70,428.75 643.30,428.00 C643.90,427.25 644.50,425.92 645.00,424.50 C645.50,423.08 645.92,421.42 646.30,419.50 C646.68,417.58 646.98,415.20 647.30,413.00 C647.62,410.80 647.87,408.30 648.20,406.30 C648.53,404.30 648.87,402.50 649.30,401.00 C649.73,399.50 650.23,398.25 650.80,397.30 C651.37,396.35 651.97,395.75 652.70,395.30 C653.43,394.85 653.98,394.77 655.20,394.60 C656.42,394.43 657.83,394.35 660.00,394.30 C662.17,394.25 666.83,394.30 668.20,394.30" fill="none" stroke="#3a5fc0" stroke-width="1.3" stroke-linejoin="round" />
<path d="M389.20,246.60 H670.30 V436.80 H389.20 Z" fill="none" stroke="#505050" stroke-width="1.6"/>
<line x1="389.20" y1="436.80" x2="393.20" y2="436.80" stroke="#505050" stroke-width="1.2"/>
<line x1="389.20" y1="413.02" x2="393.20" y2="413.02" stroke="#505050" stroke-width="1.2"/>
<line x1="389.20" y1="389.25" x2="393.20" y2="389.25" stroke="#505050" stroke-width="1.2"/>
<line x1="389.20" y1="365.48" x2="393.20" y2="365.48" stroke="#505050" stroke-width="1.2"/>
<line x1="389.20" y1="341.70" x2="393.20" y2="341.70" stroke="#505050" stroke-width="1.2"/>
<line x1="389.20" y1="317.92" x2="393.20" y2="317.92" stroke="#505050" stroke-width="1.2"/>
<line x1="389.20" y1="294.15" x2="393.20" y2="294.15" stroke="#505050" stroke-width="1.2"/>
<line x1="389.20" y1="270.38" x2="393.20" y2="270.38" stroke="#505050" stroke-width="1.2"/>
<line x1="389.20" y1="246.60" x2="393.20" y2="246.60" stroke="#505050" stroke-width="1.2"/>
<line x1="389.20" y1="436.80" x2="389.20" y2="433.30" stroke="#505050" stroke-width="1.2"/>
<line x1="423.15" y1="436.80" x2="423.15" y2="434.30" stroke="#505050" stroke-width="1.2"/>
<line x1="457.10" y1="436.80" x2="457.10" y2="433.30" stroke="#505050" stroke-width="1.2"/>
<line x1="491.05" y1="436.80" x2="491.05" y2="434.30" stroke="#505050" stroke-width="1.2"/>
<line x1="525.00" y1="436.80" x2="525.00" y2="433.30" stroke="#505050" stroke-width="1.2"/>
<line x1="558.95" y1="436.80" x2="558.95" y2="434.30" stroke="#505050" stroke-width="1.2"/>
<line x1="592.90" y1="436.80" x2="592.90" y2="433.30" stroke="#505050" stroke-width="1.2"/>
<line x1="626.85" y1="436.80" x2="626.85" y2="434.30" stroke="#505050" stroke-width="1.2"/>
<line x1="660.80" y1="436.80" x2="660.80" y2="433.30" stroke="#505050" stroke-width="1.2"/>
<text x="401.70" y="260.80" font-family="Liberation Sans, sans-serif" font-size="10.5" font-weight="bold" text-anchor="start" fill="#111" stroke="#111" stroke-width="0.3">Cathode</text>
<text x="462.20" y="262.00" font-family="Liberation Sans, sans-serif" font-size="10.5" font-weight="bold" text-anchor="start" fill="#111" stroke="#111" stroke-width="0.3">0.1 wt% LDPE NCs</text>
<text x="625.10" y="261.20" font-family="Liberation Sans, sans-serif" font-size="10.5" font-weight="bold" text-anchor="start" fill="#111" stroke="#111" stroke-width="0.3">Anode</text>
<line x1="463.10" y1="274.30" x2="488.60" y2="274.30" stroke="#999" stroke-width="1.2" stroke-dasharray="1.1 0.9"/>
<text x="495.70" y="277.60" font-family="Liberation Sans, sans-serif" font-size="10.4" font-weight="bold" text-anchor="start" fill="#111" stroke="#111" stroke-width="0.3">10 s</text>
<line x1="463.10" y1="286.10" x2="488.60" y2="286.10" stroke="#333" stroke-width="1.4" stroke-dasharray="7.2 3.5"/>
<text x="495.70" y="289.40" font-family="Liberation Sans, sans-serif" font-size="10.4" font-weight="bold" text-anchor="start" fill="#111" stroke="#111" stroke-width="0.3">30 s</text>
<line x1="463.10" y1="298.10" x2="488.60" y2="298.10" stroke="#d98585" stroke-width="1.2"/>
<text x="495.70" y="301.40" font-family="Liberation Sans, sans-serif" font-size="10.4" font-weight="bold" text-anchor="start" fill="#111" stroke="#111" stroke-width="0.3">300 s</text>
<line x1="463.10" y1="310.20" x2="488.60" y2="310.20" stroke="#5ccc5c" stroke-width="1.4"/>
<text x="495.70" y="313.50" font-family="Liberation Sans, sans-serif" font-size="10.4" font-weight="bold" text-anchor="start" fill="#111" stroke="#111" stroke-width="0.3">900 s</text>
<line x1="463.10" y1="322.20" x2="488.60" y2="322.20" stroke="#3a5ab8" stroke-width="1.5"/>
<text x="495.70" y="325.50" font-family="Liberation Sans, sans-serif" font-size="10.4" font-weight="bold" text-anchor="start" fill="#111" stroke="#111" stroke-width="0.3">1800 s</text>
</svg></body></html>
